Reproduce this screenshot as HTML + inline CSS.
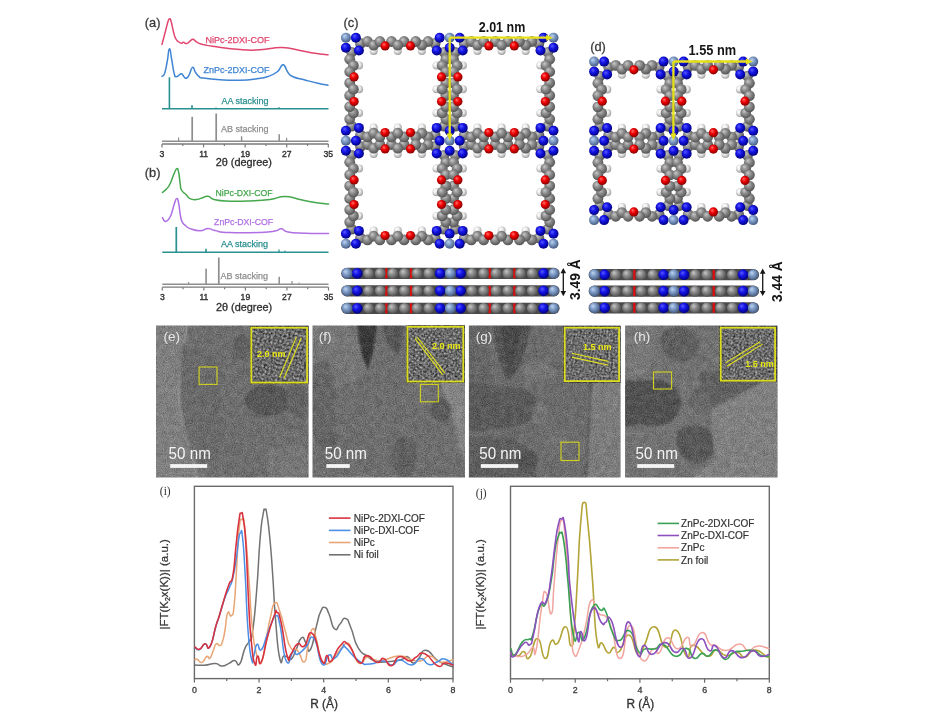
<!DOCTYPE html><html><head><meta charset="utf-8"><style>html,body{margin:0;padding:0;background:#fff;width:944px;height:727px;overflow:hidden}svg{display:block;filter:blur(0.35px)}</style></head><body>
<svg width="944" height="727" viewBox="0 0 944 727">
<defs>
<radialGradient id="gC" cx="45%" cy="42%" r="60%" fx="35%" fy="32%"><stop offset="0" stop-color="#c8c8c8"/><stop offset="0.45" stop-color="#8c8c8c"/><stop offset="1" stop-color="#505050"/></radialGradient>
<radialGradient id="sC" cx="45%" cy="42%" r="60%" fx="35%" fy="32%"><stop offset="0" stop-color="#c8c8c8"/><stop offset="0.45" stop-color="#8c8c8c"/><stop offset="1" stop-color="#505050"/></radialGradient>
<radialGradient id="gN" cx="45%" cy="42%" r="60%" fx="35%" fy="32%"><stop offset="0" stop-color="#5a5aff"/><stop offset="0.45" stop-color="#1414e6"/><stop offset="1" stop-color="#00007a"/></radialGradient>
<radialGradient id="sN" cx="45%" cy="42%" r="60%" fx="35%" fy="32%"><stop offset="0" stop-color="#5a5aff"/><stop offset="0.45" stop-color="#1414e6"/><stop offset="1" stop-color="#00007a"/></radialGradient>
<radialGradient id="gO" cx="45%" cy="42%" r="60%" fx="35%" fy="32%"><stop offset="0" stop-color="#ff7070"/><stop offset="0.45" stop-color="#f00000"/><stop offset="1" stop-color="#800000"/></radialGradient>
<radialGradient id="sO" cx="45%" cy="42%" r="60%" fx="35%" fy="32%"><stop offset="0" stop-color="#ff7070"/><stop offset="0.45" stop-color="#f00000"/><stop offset="1" stop-color="#800000"/></radialGradient>
<radialGradient id="gH" cx="45%" cy="42%" r="60%" fx="35%" fy="32%"><stop offset="0" stop-color="#ffffff"/><stop offset="0.45" stop-color="#eaeaea"/><stop offset="1" stop-color="#9a9a9a"/></radialGradient>
<radialGradient id="sH" cx="45%" cy="42%" r="60%" fx="35%" fy="32%"><stop offset="0" stop-color="#ffffff"/><stop offset="0.45" stop-color="#eaeaea"/><stop offset="1" stop-color="#9a9a9a"/></radialGradient>
<radialGradient id="gM" cx="45%" cy="42%" r="60%" fx="35%" fy="32%"><stop offset="0" stop-color="#c0d4ee"/><stop offset="0.45" stop-color="#7e9cc8"/><stop offset="1" stop-color="#44587a"/></radialGradient>
<radialGradient id="sM" cx="45%" cy="42%" r="60%" fx="35%" fy="32%"><stop offset="0" stop-color="#c0d4ee"/><stop offset="0.45" stop-color="#7e9cc8"/><stop offset="1" stop-color="#44587a"/></radialGradient>
<filter id="blur6" x="-20%" y="-20%" width="140%" height="140%"><feGaussianBlur stdDeviation="6"/></filter>
<filter id="noise" x="0" y="0" width="100%" height="100%"><feTurbulence type="fractalNoise" baseFrequency="0.75" numOctaves="2" seed="3"/><feColorMatrix type="matrix" values="0.33 0.33 0.33 0 0  0.33 0.33 0.33 0 0  0.33 0.33 0.33 0 0  0 0 0 0 1"/></filter>
<filter id="noise2" x="0" y="0" width="100%" height="100%"><feTurbulence type="fractalNoise" baseFrequency="0.5" numOctaves="2" seed="7"/><feColorMatrix type="matrix" values="0.33 0.33 0.33 0 0  0.33 0.33 0.33 0 0  0.33 0.33 0.33 0 0  0 0 0 0 1"/></filter>
<pattern id="lat0" width="4.2" height="4.2" patternUnits="userSpaceOnUse" patternTransform="rotate(20)"><rect width="4.2" height="4.2" fill="#5e5e5e"/><circle cx="2.1" cy="2.1" r="1.34" fill="#868686"/></pattern>
<pattern id="lat1" width="3.6" height="3.6" patternUnits="userSpaceOnUse" patternTransform="rotate(35)"><rect width="3.6" height="3.6" fill="#5e5e5e"/><circle cx="1.8" cy="1.8" r="1.15" fill="#868686"/></pattern>
<pattern id="lat2" width="3.0" height="3.0" patternUnits="userSpaceOnUse" patternTransform="rotate(10)"><rect width="3.0" height="3.0" fill="#5e5e5e"/><circle cx="1.5" cy="1.5" r="0.96" fill="#868686"/></pattern>
<pattern id="lat3" width="3.0" height="3.0" patternUnits="userSpaceOnUse" patternTransform="rotate(30)"><rect width="3.0" height="3.0" fill="#5e5e5e"/><circle cx="1.5" cy="1.5" r="0.96" fill="#868686"/></pattern>
</defs>
<rect width="944" height="727" fill="#fff"/>
<text x="144.8" y="27.3" font-family="Liberation Sans" font-size="12.8" fill="#3a3a3a" text-anchor="start" font-weight="normal" stroke="#3a3a3a" stroke-width="0.3" >(a)</text>
<path d="M162.00,44.30 C162.93,40.75 163.90,37.08 165.50,31.00 C167.10,24.92 166.93,24.73 168.00,21.50 C169.07,18.27 168.70,19.03 169.50,18.90 C170.30,18.77 169.99,17.77 171.00,21.00 C172.01,24.23 172.13,26.47 173.30,31.00 C174.47,35.53 174.01,35.12 175.40,38.00 C176.79,40.88 176.87,40.41 178.50,41.80 C180.13,43.19 180.17,43.09 181.50,43.20 C182.83,43.31 182.17,42.09 183.50,42.20 C184.83,42.31 184.77,43.87 186.50,43.60 C188.23,43.33 188.27,42.35 190.00,41.20 C191.73,40.05 191.27,39.14 193.00,39.30 C194.73,39.46 194.15,40.49 196.50,41.80 C198.85,43.11 196.87,42.92 201.80,44.20 C206.73,45.48 204.81,45.16 215.00,46.60 C225.19,48.04 228.00,48.75 240.00,49.60 C252.00,50.45 248.80,50.33 260.00,49.80 C271.20,49.27 271.33,47.41 282.00,47.60 C292.67,47.79 291.20,48.98 300.00,50.50 C308.80,52.02 307.53,52.15 315.00,53.30 C322.47,54.45 324.53,54.40 328.00,54.80" fill="none" stroke="#e0466e" stroke-width="1.5" stroke-linejoin="round" stroke-linecap="round" />
<path d="M162.00,76.20 C162.69,75.48 163.19,77.55 164.60,73.50 C166.01,69.45 166.02,67.56 167.30,61.00 C168.58,54.44 168.25,49.43 169.40,48.90 C170.55,48.37 170.32,52.41 171.60,59.00 C172.88,65.59 172.97,68.91 174.20,73.60 C175.43,78.29 174.92,76.17 176.20,76.60 C177.48,77.03 177.59,75.95 179.00,75.20 C180.41,74.45 180.17,73.37 181.50,73.80 C182.83,74.23 182.69,75.63 184.00,76.80 C185.31,77.97 184.99,78.79 186.40,78.20 C187.81,77.61 187.67,77.48 189.30,74.60 C190.93,71.72 190.82,67.96 192.50,67.40 C194.18,66.84 193.87,70.10 195.60,72.50 C197.33,74.90 197.03,74.93 199.00,76.40 C200.97,77.87 197.40,77.09 203.00,78.00 C208.60,78.91 210.13,79.19 220.00,79.80 C229.87,80.41 230.13,80.57 240.00,80.30 C249.87,80.03 249.53,79.81 257.00,78.80 C264.47,77.79 262.67,78.31 268.00,76.50 C273.33,74.69 273.53,74.67 277.00,72.00 C280.47,69.33 279.40,68.42 281.00,66.50 C282.60,64.58 281.93,64.80 283.00,64.80 C284.07,64.80 283.67,64.45 285.00,66.50 C286.33,68.55 285.87,69.75 288.00,72.50 C290.13,75.25 288.47,74.80 293.00,76.80 C297.53,78.80 298.33,78.29 305.00,80.00 C311.67,81.71 311.87,81.81 318.00,83.20 C324.13,84.59 325.33,84.67 328.00,85.20" fill="none" stroke="#3f85d4" stroke-width="1.5" stroke-linejoin="round" stroke-linecap="round" />
<text x="269.5" y="43.2" font-family="Liberation Sans" font-size="9.0" fill="#e0466e" text-anchor="end" font-weight="normal" stroke="#e0466e" stroke-width="0.25" >NiPc-2DXI-COF</text>
<text x="269.5" y="73.2" font-family="Liberation Sans" font-size="9.0" fill="#3f85d4" text-anchor="end" font-weight="normal" stroke="#3f85d4" stroke-width="0.25" >ZnPc-2DXI-COF</text>
<line x1="162" y1="108.7" x2="328.5" y2="108.7" stroke="#2a8f8f" stroke-width="1.6"/>
<rect x="168.60" y="77.30" width="1.60" height="31.40" fill="#2a8f8f"/>
<rect x="191.20" y="105.20" width="1.60" height="3.50" fill="#2a8f8f"/>
<rect x="215.40" y="107.50" width="1.20" height="1.20" fill="#2a8f8f"/>
<rect x="278.30" y="107.20" width="1.40" height="1.50" fill="#2a8f8f"/>
<text x="268.6" y="104.3" font-family="Liberation Sans" font-size="9.0" fill="#2a8f8f" text-anchor="end" font-weight="normal" stroke="#2a8f8f" stroke-width="0.25" >AA stacking</text>
<line x1="162" y1="141.3" x2="328.5" y2="141.3" stroke="#8e8e8e" stroke-width="1.6"/>
<rect x="178.00" y="137.50" width="1.20" height="3.80" fill="#8e8e8e"/>
<rect x="191.35" y="116.80" width="1.70" height="24.50" fill="#8e8e8e"/>
<rect x="215.35" y="113.50" width="1.70" height="27.80" fill="#8e8e8e"/>
<rect x="240.90" y="136.30" width="1.40" height="5.00" fill="#8e8e8e"/>
<rect x="278.45" y="134.20" width="1.50" height="7.10" fill="#8e8e8e"/>
<rect x="286.00" y="137.80" width="1.20" height="3.50" fill="#8e8e8e"/>
<text x="268.6" y="131.8" font-family="Liberation Sans" font-size="9.0" fill="#8e8e8e" text-anchor="end" font-weight="normal" stroke="#8e8e8e" stroke-width="0.25" >AB stacking</text>
<line x1="162" y1="144.0" x2="328.3" y2="144.0" stroke="#7a7a7a" stroke-width="1.3"/>
<line x1="162.00" y1="144.0" x2="162.00" y2="147.4" stroke="#7a7a7a" stroke-width="1.2"/>
<line x1="182.79" y1="144.0" x2="182.79" y2="146.0" stroke="#7a7a7a" stroke-width="1.2"/>
<line x1="203.57" y1="144.0" x2="203.57" y2="147.4" stroke="#7a7a7a" stroke-width="1.2"/>
<line x1="224.36" y1="144.0" x2="224.36" y2="146.0" stroke="#7a7a7a" stroke-width="1.2"/>
<line x1="245.15" y1="144.0" x2="245.15" y2="147.4" stroke="#7a7a7a" stroke-width="1.2"/>
<line x1="265.94" y1="144.0" x2="265.94" y2="146.0" stroke="#7a7a7a" stroke-width="1.2"/>
<line x1="286.73" y1="144.0" x2="286.73" y2="147.4" stroke="#7a7a7a" stroke-width="1.2"/>
<line x1="307.51" y1="144.0" x2="307.51" y2="146.0" stroke="#7a7a7a" stroke-width="1.2"/>
<line x1="328.30" y1="144.0" x2="328.30" y2="147.4" stroke="#7a7a7a" stroke-width="1.2"/>
<text x="162.0" y="156.8" font-family="Liberation Sans" font-size="8.6" fill="#2e2e2e" text-anchor="middle" font-weight="normal" stroke="#2e2e2e" stroke-width="0.35" >3</text>
<text x="203.6" y="156.8" font-family="Liberation Sans" font-size="8.6" fill="#2e2e2e" text-anchor="middle" font-weight="normal" stroke="#2e2e2e" stroke-width="0.35" >11</text>
<text x="245.2" y="156.8" font-family="Liberation Sans" font-size="8.6" fill="#2e2e2e" text-anchor="middle" font-weight="normal" stroke="#2e2e2e" stroke-width="0.35" >19</text>
<text x="286.7" y="156.8" font-family="Liberation Sans" font-size="8.6" fill="#2e2e2e" text-anchor="middle" font-weight="normal" stroke="#2e2e2e" stroke-width="0.35" >27</text>
<text x="328.3" y="156.8" font-family="Liberation Sans" font-size="8.6" fill="#2e2e2e" text-anchor="middle" font-weight="normal" stroke="#2e2e2e" stroke-width="0.35" >35</text>
<text x="243.8" y="165.5" font-family="Liberation Sans" font-size="10.9" fill="#2e2e2e" text-anchor="middle" font-weight="normal" stroke="#2e2e2e" stroke-width="0.3" >2&#952; (degree)</text>
<text x="144.8" y="176.8" font-family="Liberation Sans" font-size="12.8" fill="#3a3a3a" text-anchor="start" font-weight="normal" stroke="#3a3a3a" stroke-width="0.3" >(b)</text>
<path d="M162.50,192.40 C163.57,191.49 164.50,191.24 166.50,189.00 C168.50,186.76 168.13,187.73 170.00,184.00 C171.87,180.27 171.74,179.03 173.50,175.00 C175.26,170.97 175.24,169.70 176.60,168.90 C177.96,168.10 177.64,167.97 178.60,172.00 C179.56,176.03 179.43,179.20 180.20,184.00 C180.97,188.80 179.95,187.20 181.50,190.00 C183.05,192.80 183.73,192.21 186.00,194.50 C188.27,196.79 187.33,197.24 190.00,198.60 C192.67,199.96 192.80,199.76 196.00,199.60 C199.20,199.44 198.80,198.88 202.00,198.00 C205.20,197.12 204.53,195.82 208.00,196.30 C211.47,196.78 209.13,198.49 215.00,199.80 C220.87,201.11 220.67,200.88 230.00,201.20 C239.33,201.52 239.33,201.45 250.00,201.00 C260.67,200.55 260.72,200.70 270.00,199.50 C279.28,198.30 276.80,196.50 284.80,196.50 C292.80,196.50 291.95,197.90 300.00,199.50 C308.05,201.10 307.40,201.30 315.00,202.50 C322.60,203.70 324.90,203.60 328.50,204.00" fill="none" stroke="#45a84d" stroke-width="1.5" stroke-linejoin="round" stroke-linecap="round" />
<path d="M162.50,217.70 C163.17,218.66 163.53,220.69 165.00,221.30 C166.47,221.91 166.40,221.68 168.00,220.00 C169.60,218.32 169.40,219.00 171.00,215.00 C172.60,211.00 172.51,209.37 174.00,205.00 C175.49,200.63 175.37,199.13 176.60,198.60 C177.83,198.07 177.56,198.36 178.60,203.00 C179.64,207.64 179.46,210.85 180.50,216.00 C181.54,221.15 181.03,219.63 182.50,222.30 C183.97,224.97 184.00,224.32 186.00,226.00 C188.00,227.68 186.27,227.32 190.00,228.60 C193.73,229.88 195.20,230.85 200.00,230.80 C204.80,230.75 204.00,228.45 208.00,228.40 C212.00,228.35 209.13,229.48 215.00,230.60 C220.87,231.72 218.00,232.12 230.00,232.60 C242.00,233.08 248.00,232.83 260.00,232.40 C272.00,231.97 269.27,231.99 275.00,231.00 C280.73,230.01 278.03,228.43 281.50,228.70 C284.97,228.97 281.73,230.80 288.00,232.00 C294.27,233.20 294.20,232.83 305.00,233.20 C315.80,233.57 322.23,233.35 328.50,233.40" fill="none" stroke="#b06fe2" stroke-width="1.5" stroke-linejoin="round" stroke-linecap="round" />
<text x="272.5" y="195.6" font-family="Liberation Sans" font-size="8.7" fill="#45a84d" text-anchor="end" font-weight="normal" stroke="#45a84d" stroke-width="0.25" >NiPc-DXI-COF</text>
<text x="273" y="225.4" font-family="Liberation Sans" font-size="8.7" fill="#b06fe2" text-anchor="end" font-weight="normal" stroke="#b06fe2" stroke-width="0.25" >ZnPc-DXI-COF</text>
<line x1="162.3" y1="252.2" x2="328.5" y2="252.2" stroke="#2a8f8f" stroke-width="1.6"/>
<rect x="175.45" y="227.00" width="1.70" height="25.20" fill="#2a8f8f"/>
<rect x="205.20" y="248.80" width="1.60" height="3.40" fill="#2a8f8f"/>
<rect x="278.40" y="249.50" width="1.20" height="2.70" fill="#2a8f8f"/>
<rect x="284.50" y="250.50" width="1.00" height="1.70" fill="#2a8f8f"/>
<text x="268" y="247" font-family="Liberation Sans" font-size="9.0" fill="#2a8f8f" text-anchor="end" font-weight="normal" stroke="#2a8f8f" stroke-width="0.25" >AA stacking</text>
<line x1="162.3" y1="284.3" x2="328.5" y2="284.3" stroke="#8e8e8e" stroke-width="1.6"/>
<rect x="188.15" y="282.00" width="1.10" height="2.30" fill="#8e8e8e"/>
<rect x="205.30" y="268.60" width="1.60" height="15.70" fill="#8e8e8e"/>
<rect x="217.95" y="257.50" width="1.70" height="26.80" fill="#8e8e8e"/>
<rect x="278.45" y="276.80" width="1.50" height="7.50" fill="#8e8e8e"/>
<rect x="291.40" y="281.00" width="1.20" height="3.30" fill="#8e8e8e"/>
<rect x="298.50" y="282.50" width="1.00" height="1.80" fill="#8e8e8e"/>
<text x="268" y="278.6" font-family="Liberation Sans" font-size="9.0" fill="#8e8e8e" text-anchor="end" font-weight="normal" stroke="#8e8e8e" stroke-width="0.25" >AB stacking</text>
<line x1="162.3" y1="287.2" x2="328.5" y2="287.2" stroke="#7a7a7a" stroke-width="1.3"/>
<line x1="162.30" y1="287.2" x2="162.30" y2="290.59999999999997" stroke="#7a7a7a" stroke-width="1.2"/>
<line x1="183.08" y1="287.2" x2="183.08" y2="289.2" stroke="#7a7a7a" stroke-width="1.2"/>
<line x1="203.85" y1="287.2" x2="203.85" y2="290.59999999999997" stroke="#7a7a7a" stroke-width="1.2"/>
<line x1="224.62" y1="287.2" x2="224.62" y2="289.2" stroke="#7a7a7a" stroke-width="1.2"/>
<line x1="245.40" y1="287.2" x2="245.40" y2="290.59999999999997" stroke="#7a7a7a" stroke-width="1.2"/>
<line x1="266.18" y1="287.2" x2="266.18" y2="289.2" stroke="#7a7a7a" stroke-width="1.2"/>
<line x1="286.95" y1="287.2" x2="286.95" y2="290.59999999999997" stroke="#7a7a7a" stroke-width="1.2"/>
<line x1="307.73" y1="287.2" x2="307.73" y2="289.2" stroke="#7a7a7a" stroke-width="1.2"/>
<line x1="328.50" y1="287.2" x2="328.50" y2="290.59999999999997" stroke="#7a7a7a" stroke-width="1.2"/>
<text x="162.3" y="300.3" font-family="Liberation Sans" font-size="8.6" fill="#2e2e2e" text-anchor="middle" font-weight="normal" stroke="#2e2e2e" stroke-width="0.35" >3</text>
<text x="203.9" y="300.3" font-family="Liberation Sans" font-size="8.6" fill="#2e2e2e" text-anchor="middle" font-weight="normal" stroke="#2e2e2e" stroke-width="0.35" >11</text>
<text x="245.4" y="300.3" font-family="Liberation Sans" font-size="8.6" fill="#2e2e2e" text-anchor="middle" font-weight="normal" stroke="#2e2e2e" stroke-width="0.35" >19</text>
<text x="286.9" y="300.3" font-family="Liberation Sans" font-size="8.6" fill="#2e2e2e" text-anchor="middle" font-weight="normal" stroke="#2e2e2e" stroke-width="0.35" >27</text>
<text x="328.5" y="300.3" font-family="Liberation Sans" font-size="8.6" fill="#2e2e2e" text-anchor="middle" font-weight="normal" stroke="#2e2e2e" stroke-width="0.35" >35</text>
<text x="244.1" y="311.3" font-family="Liberation Sans" font-size="10.9" fill="#2e2e2e" text-anchor="middle" font-weight="normal" stroke="#2e2e2e" stroke-width="0.3" >2&#952; (degree)</text>
<text x="343.6" y="27.4" font-family="Liberation Sans" font-size="12.8" fill="#3a3a3a" text-anchor="start" font-weight="normal" stroke="#3a3a3a" stroke-width="0.3" >(c)</text>
<circle cx="373.70" cy="50.90" r="4.0" fill="url(#gH)"/>
<circle cx="359.10" cy="65.50" r="4.0" fill="url(#gH)"/>
<circle cx="397.80" cy="50.90" r="4.0" fill="url(#gH)"/>
<circle cx="359.10" cy="89.20" r="4.0" fill="url(#gH)"/>
<circle cx="373.70" cy="153.90" r="4.0" fill="url(#gH)"/>
<circle cx="373.70" cy="127.50" r="4.0" fill="url(#gH)"/>
<circle cx="359.10" cy="168.50" r="4.0" fill="url(#gH)"/>
<circle cx="359.10" cy="112.90" r="4.0" fill="url(#gH)"/>
<circle cx="397.80" cy="153.90" r="4.0" fill="url(#gH)"/>
<circle cx="397.80" cy="127.50" r="4.0" fill="url(#gH)"/>
<circle cx="359.10" cy="192.20" r="4.0" fill="url(#gH)"/>
<circle cx="373.70" cy="230.50" r="4.0" fill="url(#gH)"/>
<circle cx="359.10" cy="215.90" r="4.0" fill="url(#gH)"/>
<circle cx="397.80" cy="230.50" r="4.0" fill="url(#gH)"/>
<circle cx="477.50" cy="50.90" r="4.0" fill="url(#gH)"/>
<circle cx="436.50" cy="65.50" r="4.0" fill="url(#gH)"/>
<circle cx="462.90" cy="65.50" r="4.0" fill="url(#gH)"/>
<circle cx="421.90" cy="50.90" r="4.0" fill="url(#gH)"/>
<circle cx="501.60" cy="50.90" r="4.0" fill="url(#gH)"/>
<circle cx="462.90" cy="89.20" r="4.0" fill="url(#gH)"/>
<circle cx="436.50" cy="89.20" r="4.0" fill="url(#gH)"/>
<circle cx="477.50" cy="153.90" r="4.0" fill="url(#gH)"/>
<circle cx="477.50" cy="127.50" r="4.0" fill="url(#gH)"/>
<circle cx="436.50" cy="168.50" r="4.0" fill="url(#gH)"/>
<circle cx="462.90" cy="168.50" r="4.0" fill="url(#gH)"/>
<circle cx="421.90" cy="127.50" r="4.0" fill="url(#gH)"/>
<circle cx="421.90" cy="153.90" r="4.0" fill="url(#gH)"/>
<circle cx="462.90" cy="112.90" r="4.0" fill="url(#gH)"/>
<circle cx="436.50" cy="112.90" r="4.0" fill="url(#gH)"/>
<circle cx="501.60" cy="153.90" r="4.0" fill="url(#gH)"/>
<circle cx="501.60" cy="127.50" r="4.0" fill="url(#gH)"/>
<circle cx="462.90" cy="192.20" r="4.0" fill="url(#gH)"/>
<circle cx="436.50" cy="192.20" r="4.0" fill="url(#gH)"/>
<circle cx="477.50" cy="230.50" r="4.0" fill="url(#gH)"/>
<circle cx="421.90" cy="230.50" r="4.0" fill="url(#gH)"/>
<circle cx="462.90" cy="215.90" r="4.0" fill="url(#gH)"/>
<circle cx="436.50" cy="215.90" r="4.0" fill="url(#gH)"/>
<circle cx="501.60" cy="230.50" r="4.0" fill="url(#gH)"/>
<circle cx="540.30" cy="65.50" r="4.0" fill="url(#gH)"/>
<circle cx="525.70" cy="50.90" r="4.0" fill="url(#gH)"/>
<circle cx="540.30" cy="89.20" r="4.0" fill="url(#gH)"/>
<circle cx="540.30" cy="168.50" r="4.0" fill="url(#gH)"/>
<circle cx="525.70" cy="127.50" r="4.0" fill="url(#gH)"/>
<circle cx="525.70" cy="153.90" r="4.0" fill="url(#gH)"/>
<circle cx="540.30" cy="112.90" r="4.0" fill="url(#gH)"/>
<circle cx="540.30" cy="192.20" r="4.0" fill="url(#gH)"/>
<circle cx="525.70" cy="230.50" r="4.0" fill="url(#gH)"/>
<circle cx="540.30" cy="215.90" r="4.0" fill="url(#gH)"/>
<circle cx="360.50" cy="43.40" r="5.4" fill="url(#gC)"/>
<circle cx="367.50" cy="41.50" r="5.4" fill="url(#gC)"/>
<circle cx="373.70" cy="45.20" r="5.4" fill="url(#gC)"/>
<circle cx="379.90" cy="41.50" r="5.4" fill="url(#gC)"/>
<circle cx="351.60" cy="52.30" r="5.4" fill="url(#gC)"/>
<circle cx="349.70" cy="59.30" r="5.4" fill="url(#gC)"/>
<circle cx="353.40" cy="65.50" r="5.4" fill="url(#gC)"/>
<circle cx="349.70" cy="71.70" r="5.4" fill="url(#gC)"/>
<circle cx="391.50" cy="41.50" r="5.4" fill="url(#gC)"/>
<circle cx="404.10" cy="41.50" r="5.4" fill="url(#gC)"/>
<circle cx="397.80" cy="45.20" r="5.4" fill="url(#gC)"/>
<circle cx="349.70" cy="82.90" r="5.4" fill="url(#gC)"/>
<circle cx="349.70" cy="95.50" r="5.4" fill="url(#gC)"/>
<circle cx="353.40" cy="89.20" r="5.4" fill="url(#gC)"/>
<circle cx="360.50" cy="146.40" r="5.4" fill="url(#gC)"/>
<circle cx="360.50" cy="135.00" r="5.4" fill="url(#gC)"/>
<circle cx="367.50" cy="144.50" r="5.4" fill="url(#gC)"/>
<circle cx="367.50" cy="136.90" r="5.4" fill="url(#gC)"/>
<circle cx="373.70" cy="148.20" r="5.4" fill="url(#gC)"/>
<circle cx="373.70" cy="133.20" r="5.4" fill="url(#gC)"/>
<circle cx="379.90" cy="144.50" r="5.4" fill="url(#gC)"/>
<circle cx="379.90" cy="136.90" r="5.4" fill="url(#gC)"/>
<circle cx="351.60" cy="155.30" r="5.4" fill="url(#gC)"/>
<circle cx="349.70" cy="162.30" r="5.4" fill="url(#gC)"/>
<circle cx="353.40" cy="168.50" r="5.4" fill="url(#gC)"/>
<circle cx="349.70" cy="174.70" r="5.4" fill="url(#gC)"/>
<circle cx="351.60" cy="126.10" r="5.4" fill="url(#gC)"/>
<circle cx="349.70" cy="119.10" r="5.4" fill="url(#gC)"/>
<circle cx="353.40" cy="112.90" r="5.4" fill="url(#gC)"/>
<circle cx="349.70" cy="106.70" r="5.4" fill="url(#gC)"/>
<circle cx="391.50" cy="144.50" r="5.4" fill="url(#gC)"/>
<circle cx="391.50" cy="136.90" r="5.4" fill="url(#gC)"/>
<circle cx="404.10" cy="144.50" r="5.4" fill="url(#gC)"/>
<circle cx="404.10" cy="136.90" r="5.4" fill="url(#gC)"/>
<circle cx="397.80" cy="148.20" r="5.4" fill="url(#gC)"/>
<circle cx="397.80" cy="133.20" r="5.4" fill="url(#gC)"/>
<circle cx="349.70" cy="185.90" r="5.4" fill="url(#gC)"/>
<circle cx="349.70" cy="198.50" r="5.4" fill="url(#gC)"/>
<circle cx="353.40" cy="192.20" r="5.4" fill="url(#gC)"/>
<circle cx="360.50" cy="238.00" r="5.4" fill="url(#gC)"/>
<circle cx="367.50" cy="239.90" r="5.4" fill="url(#gC)"/>
<circle cx="373.70" cy="236.20" r="5.4" fill="url(#gC)"/>
<circle cx="379.90" cy="239.90" r="5.4" fill="url(#gC)"/>
<circle cx="351.60" cy="229.10" r="5.4" fill="url(#gC)"/>
<circle cx="349.70" cy="222.10" r="5.4" fill="url(#gC)"/>
<circle cx="353.40" cy="215.90" r="5.4" fill="url(#gC)"/>
<circle cx="349.70" cy="209.70" r="5.4" fill="url(#gC)"/>
<circle cx="391.50" cy="239.90" r="5.4" fill="url(#gC)"/>
<circle cx="404.10" cy="239.90" r="5.4" fill="url(#gC)"/>
<circle cx="397.80" cy="236.20" r="5.4" fill="url(#gC)"/>
<circle cx="464.30" cy="43.40" r="5.4" fill="url(#gC)"/>
<circle cx="471.30" cy="41.50" r="5.4" fill="url(#gC)"/>
<circle cx="477.50" cy="45.20" r="5.4" fill="url(#gC)"/>
<circle cx="483.70" cy="41.50" r="5.4" fill="url(#gC)"/>
<circle cx="444.00" cy="52.30" r="5.4" fill="url(#gC)"/>
<circle cx="455.40" cy="52.30" r="5.4" fill="url(#gC)"/>
<circle cx="445.90" cy="59.30" r="5.4" fill="url(#gC)"/>
<circle cx="453.50" cy="59.30" r="5.4" fill="url(#gC)"/>
<circle cx="442.20" cy="65.50" r="5.4" fill="url(#gC)"/>
<circle cx="457.20" cy="65.50" r="5.4" fill="url(#gC)"/>
<circle cx="445.90" cy="71.70" r="5.4" fill="url(#gC)"/>
<circle cx="453.50" cy="71.70" r="5.4" fill="url(#gC)"/>
<circle cx="435.10" cy="43.40" r="5.4" fill="url(#gC)"/>
<circle cx="428.10" cy="41.50" r="5.4" fill="url(#gC)"/>
<circle cx="421.90" cy="45.20" r="5.4" fill="url(#gC)"/>
<circle cx="415.70" cy="41.50" r="5.4" fill="url(#gC)"/>
<circle cx="495.30" cy="41.50" r="5.4" fill="url(#gC)"/>
<circle cx="507.90" cy="41.50" r="5.4" fill="url(#gC)"/>
<circle cx="501.60" cy="45.20" r="5.4" fill="url(#gC)"/>
<circle cx="453.50" cy="82.90" r="5.4" fill="url(#gC)"/>
<circle cx="445.90" cy="82.90" r="5.4" fill="url(#gC)"/>
<circle cx="453.50" cy="95.50" r="5.4" fill="url(#gC)"/>
<circle cx="445.90" cy="95.50" r="5.4" fill="url(#gC)"/>
<circle cx="457.20" cy="89.20" r="5.4" fill="url(#gC)"/>
<circle cx="442.20" cy="89.20" r="5.4" fill="url(#gC)"/>
<circle cx="464.30" cy="146.40" r="5.4" fill="url(#gC)"/>
<circle cx="464.30" cy="135.00" r="5.4" fill="url(#gC)"/>
<circle cx="471.30" cy="144.50" r="5.4" fill="url(#gC)"/>
<circle cx="471.30" cy="136.90" r="5.4" fill="url(#gC)"/>
<circle cx="477.50" cy="148.20" r="5.4" fill="url(#gC)"/>
<circle cx="477.50" cy="133.20" r="5.4" fill="url(#gC)"/>
<circle cx="483.70" cy="144.50" r="5.4" fill="url(#gC)"/>
<circle cx="483.70" cy="136.90" r="5.4" fill="url(#gC)"/>
<circle cx="444.00" cy="155.30" r="5.4" fill="url(#gC)"/>
<circle cx="455.40" cy="155.30" r="5.4" fill="url(#gC)"/>
<circle cx="445.90" cy="162.30" r="5.4" fill="url(#gC)"/>
<circle cx="453.50" cy="162.30" r="5.4" fill="url(#gC)"/>
<circle cx="442.20" cy="168.50" r="5.4" fill="url(#gC)"/>
<circle cx="457.20" cy="168.50" r="5.4" fill="url(#gC)"/>
<circle cx="445.90" cy="174.70" r="5.4" fill="url(#gC)"/>
<circle cx="453.50" cy="174.70" r="5.4" fill="url(#gC)"/>
<circle cx="435.10" cy="135.00" r="5.4" fill="url(#gC)"/>
<circle cx="435.10" cy="146.40" r="5.4" fill="url(#gC)"/>
<circle cx="428.10" cy="136.90" r="5.4" fill="url(#gC)"/>
<circle cx="428.10" cy="144.50" r="5.4" fill="url(#gC)"/>
<circle cx="421.90" cy="133.20" r="5.4" fill="url(#gC)"/>
<circle cx="421.90" cy="148.20" r="5.4" fill="url(#gC)"/>
<circle cx="415.70" cy="136.90" r="5.4" fill="url(#gC)"/>
<circle cx="415.70" cy="144.50" r="5.4" fill="url(#gC)"/>
<circle cx="455.40" cy="126.10" r="5.4" fill="url(#gC)"/>
<circle cx="444.00" cy="126.10" r="5.4" fill="url(#gC)"/>
<circle cx="453.50" cy="119.10" r="5.4" fill="url(#gC)"/>
<circle cx="445.90" cy="119.10" r="5.4" fill="url(#gC)"/>
<circle cx="457.20" cy="112.90" r="5.4" fill="url(#gC)"/>
<circle cx="442.20" cy="112.90" r="5.4" fill="url(#gC)"/>
<circle cx="453.50" cy="106.70" r="5.4" fill="url(#gC)"/>
<circle cx="445.90" cy="106.70" r="5.4" fill="url(#gC)"/>
<circle cx="495.30" cy="144.50" r="5.4" fill="url(#gC)"/>
<circle cx="495.30" cy="136.90" r="5.4" fill="url(#gC)"/>
<circle cx="507.90" cy="144.50" r="5.4" fill="url(#gC)"/>
<circle cx="507.90" cy="136.90" r="5.4" fill="url(#gC)"/>
<circle cx="501.60" cy="148.20" r="5.4" fill="url(#gC)"/>
<circle cx="501.60" cy="133.20" r="5.4" fill="url(#gC)"/>
<circle cx="453.50" cy="185.90" r="5.4" fill="url(#gC)"/>
<circle cx="445.90" cy="185.90" r="5.4" fill="url(#gC)"/>
<circle cx="453.50" cy="198.50" r="5.4" fill="url(#gC)"/>
<circle cx="445.90" cy="198.50" r="5.4" fill="url(#gC)"/>
<circle cx="457.20" cy="192.20" r="5.4" fill="url(#gC)"/>
<circle cx="442.20" cy="192.20" r="5.4" fill="url(#gC)"/>
<circle cx="464.30" cy="238.00" r="5.4" fill="url(#gC)"/>
<circle cx="471.30" cy="239.90" r="5.4" fill="url(#gC)"/>
<circle cx="477.50" cy="236.20" r="5.4" fill="url(#gC)"/>
<circle cx="483.70" cy="239.90" r="5.4" fill="url(#gC)"/>
<circle cx="435.10" cy="238.00" r="5.4" fill="url(#gC)"/>
<circle cx="428.10" cy="239.90" r="5.4" fill="url(#gC)"/>
<circle cx="421.90" cy="236.20" r="5.4" fill="url(#gC)"/>
<circle cx="415.70" cy="239.90" r="5.4" fill="url(#gC)"/>
<circle cx="455.40" cy="229.10" r="5.4" fill="url(#gC)"/>
<circle cx="444.00" cy="229.10" r="5.4" fill="url(#gC)"/>
<circle cx="453.50" cy="222.10" r="5.4" fill="url(#gC)"/>
<circle cx="445.90" cy="222.10" r="5.4" fill="url(#gC)"/>
<circle cx="457.20" cy="215.90" r="5.4" fill="url(#gC)"/>
<circle cx="442.20" cy="215.90" r="5.4" fill="url(#gC)"/>
<circle cx="453.50" cy="209.70" r="5.4" fill="url(#gC)"/>
<circle cx="445.90" cy="209.70" r="5.4" fill="url(#gC)"/>
<circle cx="495.30" cy="239.90" r="5.4" fill="url(#gC)"/>
<circle cx="507.90" cy="239.90" r="5.4" fill="url(#gC)"/>
<circle cx="501.60" cy="236.20" r="5.4" fill="url(#gC)"/>
<circle cx="547.80" cy="52.30" r="5.4" fill="url(#gC)"/>
<circle cx="549.70" cy="59.30" r="5.4" fill="url(#gC)"/>
<circle cx="546.00" cy="65.50" r="5.4" fill="url(#gC)"/>
<circle cx="549.70" cy="71.70" r="5.4" fill="url(#gC)"/>
<circle cx="538.90" cy="43.40" r="5.4" fill="url(#gC)"/>
<circle cx="531.90" cy="41.50" r="5.4" fill="url(#gC)"/>
<circle cx="525.70" cy="45.20" r="5.4" fill="url(#gC)"/>
<circle cx="519.50" cy="41.50" r="5.4" fill="url(#gC)"/>
<circle cx="549.70" cy="82.90" r="5.4" fill="url(#gC)"/>
<circle cx="549.70" cy="95.50" r="5.4" fill="url(#gC)"/>
<circle cx="546.00" cy="89.20" r="5.4" fill="url(#gC)"/>
<circle cx="547.80" cy="155.30" r="5.4" fill="url(#gC)"/>
<circle cx="549.70" cy="162.30" r="5.4" fill="url(#gC)"/>
<circle cx="546.00" cy="168.50" r="5.4" fill="url(#gC)"/>
<circle cx="549.70" cy="174.70" r="5.4" fill="url(#gC)"/>
<circle cx="538.90" cy="135.00" r="5.4" fill="url(#gC)"/>
<circle cx="538.90" cy="146.40" r="5.4" fill="url(#gC)"/>
<circle cx="531.90" cy="136.90" r="5.4" fill="url(#gC)"/>
<circle cx="531.90" cy="144.50" r="5.4" fill="url(#gC)"/>
<circle cx="525.70" cy="133.20" r="5.4" fill="url(#gC)"/>
<circle cx="525.70" cy="148.20" r="5.4" fill="url(#gC)"/>
<circle cx="519.50" cy="136.90" r="5.4" fill="url(#gC)"/>
<circle cx="519.50" cy="144.50" r="5.4" fill="url(#gC)"/>
<circle cx="547.80" cy="126.10" r="5.4" fill="url(#gC)"/>
<circle cx="549.70" cy="119.10" r="5.4" fill="url(#gC)"/>
<circle cx="546.00" cy="112.90" r="5.4" fill="url(#gC)"/>
<circle cx="549.70" cy="106.70" r="5.4" fill="url(#gC)"/>
<circle cx="549.70" cy="185.90" r="5.4" fill="url(#gC)"/>
<circle cx="549.70" cy="198.50" r="5.4" fill="url(#gC)"/>
<circle cx="546.00" cy="192.20" r="5.4" fill="url(#gC)"/>
<circle cx="538.90" cy="238.00" r="5.4" fill="url(#gC)"/>
<circle cx="531.90" cy="239.90" r="5.4" fill="url(#gC)"/>
<circle cx="525.70" cy="236.20" r="5.4" fill="url(#gC)"/>
<circle cx="519.50" cy="239.90" r="5.4" fill="url(#gC)"/>
<circle cx="547.80" cy="229.10" r="5.4" fill="url(#gC)"/>
<circle cx="549.70" cy="222.10" r="5.4" fill="url(#gC)"/>
<circle cx="546.00" cy="215.90" r="5.4" fill="url(#gC)"/>
<circle cx="549.70" cy="209.70" r="5.4" fill="url(#gC)"/>
<circle cx="385.10" cy="45.90" r="4.6" fill="url(#gO)"/>
<circle cx="410.50" cy="45.90" r="4.6" fill="url(#gO)"/>
<circle cx="354.10" cy="76.90" r="4.6" fill="url(#gO)"/>
<circle cx="354.10" cy="101.50" r="4.6" fill="url(#gO)"/>
<circle cx="385.10" cy="148.90" r="4.6" fill="url(#gO)"/>
<circle cx="385.10" cy="132.50" r="4.6" fill="url(#gO)"/>
<circle cx="410.50" cy="148.90" r="4.6" fill="url(#gO)"/>
<circle cx="410.50" cy="132.50" r="4.6" fill="url(#gO)"/>
<circle cx="354.10" cy="179.90" r="4.6" fill="url(#gO)"/>
<circle cx="354.10" cy="204.50" r="4.6" fill="url(#gO)"/>
<circle cx="385.10" cy="235.50" r="4.6" fill="url(#gO)"/>
<circle cx="410.50" cy="235.50" r="4.6" fill="url(#gO)"/>
<circle cx="488.90" cy="45.90" r="4.6" fill="url(#gO)"/>
<circle cx="514.30" cy="45.90" r="4.6" fill="url(#gO)"/>
<circle cx="457.90" cy="76.90" r="4.6" fill="url(#gO)"/>
<circle cx="441.50" cy="76.90" r="4.6" fill="url(#gO)"/>
<circle cx="457.90" cy="101.50" r="4.6" fill="url(#gO)"/>
<circle cx="441.50" cy="101.50" r="4.6" fill="url(#gO)"/>
<circle cx="488.90" cy="148.90" r="4.6" fill="url(#gO)"/>
<circle cx="488.90" cy="132.50" r="4.6" fill="url(#gO)"/>
<circle cx="514.30" cy="148.90" r="4.6" fill="url(#gO)"/>
<circle cx="514.30" cy="132.50" r="4.6" fill="url(#gO)"/>
<circle cx="457.90" cy="179.90" r="4.6" fill="url(#gO)"/>
<circle cx="441.50" cy="179.90" r="4.6" fill="url(#gO)"/>
<circle cx="457.90" cy="204.50" r="4.6" fill="url(#gO)"/>
<circle cx="441.50" cy="204.50" r="4.6" fill="url(#gO)"/>
<circle cx="488.90" cy="235.50" r="4.6" fill="url(#gO)"/>
<circle cx="514.30" cy="235.50" r="4.6" fill="url(#gO)"/>
<circle cx="545.30" cy="76.90" r="4.6" fill="url(#gO)"/>
<circle cx="545.30" cy="101.50" r="4.6" fill="url(#gO)"/>
<circle cx="545.30" cy="179.90" r="4.6" fill="url(#gO)"/>
<circle cx="545.30" cy="204.50" r="4.6" fill="url(#gO)"/>
<circle cx="355.90" cy="37.70" r="5.0" fill="url(#gN)"/>
<circle cx="345.90" cy="47.70" r="5.0" fill="url(#gN)"/>
<circle cx="358.90" cy="50.50" r="5.0" fill="url(#gN)"/>
<circle cx="355.90" cy="140.70" r="5.0" fill="url(#gN)"/>
<circle cx="345.90" cy="150.70" r="5.0" fill="url(#gN)"/>
<circle cx="345.90" cy="130.70" r="5.0" fill="url(#gN)"/>
<circle cx="358.90" cy="153.50" r="5.0" fill="url(#gN)"/>
<circle cx="358.90" cy="127.90" r="5.0" fill="url(#gN)"/>
<circle cx="355.90" cy="243.70" r="5.0" fill="url(#gN)"/>
<circle cx="345.90" cy="233.70" r="5.0" fill="url(#gN)"/>
<circle cx="358.90" cy="230.90" r="5.0" fill="url(#gN)"/>
<circle cx="459.70" cy="37.70" r="5.0" fill="url(#gN)"/>
<circle cx="449.70" cy="47.70" r="5.0" fill="url(#gN)"/>
<circle cx="439.70" cy="37.70" r="5.0" fill="url(#gN)"/>
<circle cx="462.70" cy="50.50" r="5.0" fill="url(#gN)"/>
<circle cx="436.70" cy="50.50" r="5.0" fill="url(#gN)"/>
<circle cx="459.70" cy="140.70" r="5.0" fill="url(#gN)"/>
<circle cx="449.70" cy="150.70" r="5.0" fill="url(#gN)"/>
<circle cx="439.70" cy="140.70" r="5.0" fill="url(#gN)"/>
<circle cx="449.70" cy="130.70" r="5.0" fill="url(#gN)"/>
<circle cx="462.70" cy="153.50" r="5.0" fill="url(#gN)"/>
<circle cx="462.70" cy="127.90" r="5.0" fill="url(#gN)"/>
<circle cx="436.70" cy="153.50" r="5.0" fill="url(#gN)"/>
<circle cx="436.70" cy="127.90" r="5.0" fill="url(#gN)"/>
<circle cx="459.70" cy="243.70" r="5.0" fill="url(#gN)"/>
<circle cx="439.70" cy="243.70" r="5.0" fill="url(#gN)"/>
<circle cx="449.70" cy="233.70" r="5.0" fill="url(#gN)"/>
<circle cx="462.70" cy="230.90" r="5.0" fill="url(#gN)"/>
<circle cx="436.70" cy="230.90" r="5.0" fill="url(#gN)"/>
<circle cx="553.50" cy="47.70" r="5.0" fill="url(#gN)"/>
<circle cx="543.50" cy="37.70" r="5.0" fill="url(#gN)"/>
<circle cx="540.50" cy="50.50" r="5.0" fill="url(#gN)"/>
<circle cx="553.50" cy="150.70" r="5.0" fill="url(#gN)"/>
<circle cx="543.50" cy="140.70" r="5.0" fill="url(#gN)"/>
<circle cx="553.50" cy="130.70" r="5.0" fill="url(#gN)"/>
<circle cx="540.50" cy="153.50" r="5.0" fill="url(#gN)"/>
<circle cx="540.50" cy="127.90" r="5.0" fill="url(#gN)"/>
<circle cx="543.50" cy="243.70" r="5.0" fill="url(#gN)"/>
<circle cx="553.50" cy="233.70" r="5.0" fill="url(#gN)"/>
<circle cx="540.50" cy="230.90" r="5.0" fill="url(#gN)"/>
<circle cx="345.90" cy="37.70" r="5.0" fill="url(#gM)"/>
<circle cx="345.90" cy="140.70" r="5.0" fill="url(#gM)"/>
<circle cx="345.90" cy="243.70" r="5.0" fill="url(#gM)"/>
<circle cx="449.70" cy="37.70" r="5.0" fill="url(#gM)"/>
<circle cx="449.70" cy="140.70" r="5.0" fill="url(#gM)"/>
<circle cx="449.70" cy="243.70" r="5.0" fill="url(#gM)"/>
<circle cx="553.50" cy="37.70" r="5.0" fill="url(#gM)"/>
<circle cx="553.50" cy="140.70" r="5.0" fill="url(#gM)"/>
<circle cx="553.50" cy="243.70" r="5.0" fill="url(#gM)"/>
<g stroke="#e6e018" stroke-width="2.3" fill="none"><line x1="449.7" y1="37.7" x2="548.2" y2="37.7"/><line x1="449.7" y1="37.7" x2="449.7" y2="135.5"/></g>
<path d="M553.2,37.7 L546.2,34.7 L546.2,40.7 Z" fill="#e6e018"/>
<path d="M449.7,140.5 L446.7,133.5 L452.7,133.5 Z" fill="#e6e018"/>
<text x="0" y="0" transform="translate(502,31.5) scale(1,1.13)" font-family="Liberation Sans" font-size="12.5" fill="#151515" text-anchor="middle" font-weight="bold" >2.01 nm</text>
<text x="590.2" y="50.8" font-family="Liberation Sans" font-size="12.8" fill="#3a3a3a" text-anchor="start" font-weight="normal" stroke="#3a3a3a" stroke-width="0.3" >(d)</text>
<circle cx="621.90" cy="74.80" r="4.0" fill="url(#gH)"/>
<circle cx="607.30" cy="89.40" r="4.0" fill="url(#gH)"/>
<circle cx="621.90" cy="154.05" r="4.0" fill="url(#gH)"/>
<circle cx="621.90" cy="127.65" r="4.0" fill="url(#gH)"/>
<circle cx="607.30" cy="168.65" r="4.0" fill="url(#gH)"/>
<circle cx="607.30" cy="113.05" r="4.0" fill="url(#gH)"/>
<circle cx="621.90" cy="206.90" r="4.0" fill="url(#gH)"/>
<circle cx="607.30" cy="192.30" r="4.0" fill="url(#gH)"/>
<circle cx="701.45" cy="74.80" r="4.0" fill="url(#gH)"/>
<circle cx="660.45" cy="89.40" r="4.0" fill="url(#gH)"/>
<circle cx="686.85" cy="89.40" r="4.0" fill="url(#gH)"/>
<circle cx="645.85" cy="74.80" r="4.0" fill="url(#gH)"/>
<circle cx="701.45" cy="154.05" r="4.0" fill="url(#gH)"/>
<circle cx="701.45" cy="127.65" r="4.0" fill="url(#gH)"/>
<circle cx="660.45" cy="168.65" r="4.0" fill="url(#gH)"/>
<circle cx="686.85" cy="168.65" r="4.0" fill="url(#gH)"/>
<circle cx="645.85" cy="127.65" r="4.0" fill="url(#gH)"/>
<circle cx="645.85" cy="154.05" r="4.0" fill="url(#gH)"/>
<circle cx="686.85" cy="113.05" r="4.0" fill="url(#gH)"/>
<circle cx="660.45" cy="113.05" r="4.0" fill="url(#gH)"/>
<circle cx="701.45" cy="206.90" r="4.0" fill="url(#gH)"/>
<circle cx="645.85" cy="206.90" r="4.0" fill="url(#gH)"/>
<circle cx="686.85" cy="192.30" r="4.0" fill="url(#gH)"/>
<circle cx="660.45" cy="192.30" r="4.0" fill="url(#gH)"/>
<circle cx="740.00" cy="89.40" r="4.0" fill="url(#gH)"/>
<circle cx="725.40" cy="74.80" r="4.0" fill="url(#gH)"/>
<circle cx="740.00" cy="168.65" r="4.0" fill="url(#gH)"/>
<circle cx="725.40" cy="127.65" r="4.0" fill="url(#gH)"/>
<circle cx="725.40" cy="154.05" r="4.0" fill="url(#gH)"/>
<circle cx="740.00" cy="113.05" r="4.0" fill="url(#gH)"/>
<circle cx="725.40" cy="206.90" r="4.0" fill="url(#gH)"/>
<circle cx="740.00" cy="192.30" r="4.0" fill="url(#gH)"/>
<circle cx="608.70" cy="67.30" r="5.4" fill="url(#gC)"/>
<circle cx="615.70" cy="65.40" r="5.4" fill="url(#gC)"/>
<circle cx="621.90" cy="69.10" r="5.4" fill="url(#gC)"/>
<circle cx="628.10" cy="65.40" r="5.4" fill="url(#gC)"/>
<circle cx="599.80" cy="76.20" r="5.4" fill="url(#gC)"/>
<circle cx="597.90" cy="83.20" r="5.4" fill="url(#gC)"/>
<circle cx="601.60" cy="89.40" r="5.4" fill="url(#gC)"/>
<circle cx="597.90" cy="95.60" r="5.4" fill="url(#gC)"/>
<circle cx="608.70" cy="146.55" r="5.4" fill="url(#gC)"/>
<circle cx="608.70" cy="135.15" r="5.4" fill="url(#gC)"/>
<circle cx="615.70" cy="144.65" r="5.4" fill="url(#gC)"/>
<circle cx="615.70" cy="137.05" r="5.4" fill="url(#gC)"/>
<circle cx="621.90" cy="148.35" r="5.4" fill="url(#gC)"/>
<circle cx="621.90" cy="133.35" r="5.4" fill="url(#gC)"/>
<circle cx="628.10" cy="144.65" r="5.4" fill="url(#gC)"/>
<circle cx="628.10" cy="137.05" r="5.4" fill="url(#gC)"/>
<circle cx="599.80" cy="155.45" r="5.4" fill="url(#gC)"/>
<circle cx="597.90" cy="162.45" r="5.4" fill="url(#gC)"/>
<circle cx="601.60" cy="168.65" r="5.4" fill="url(#gC)"/>
<circle cx="597.90" cy="174.85" r="5.4" fill="url(#gC)"/>
<circle cx="599.80" cy="126.25" r="5.4" fill="url(#gC)"/>
<circle cx="597.90" cy="119.25" r="5.4" fill="url(#gC)"/>
<circle cx="601.60" cy="113.05" r="5.4" fill="url(#gC)"/>
<circle cx="597.90" cy="106.85" r="5.4" fill="url(#gC)"/>
<circle cx="608.70" cy="214.40" r="5.4" fill="url(#gC)"/>
<circle cx="615.70" cy="216.30" r="5.4" fill="url(#gC)"/>
<circle cx="621.90" cy="212.60" r="5.4" fill="url(#gC)"/>
<circle cx="628.10" cy="216.30" r="5.4" fill="url(#gC)"/>
<circle cx="599.80" cy="205.50" r="5.4" fill="url(#gC)"/>
<circle cx="597.90" cy="198.50" r="5.4" fill="url(#gC)"/>
<circle cx="601.60" cy="192.30" r="5.4" fill="url(#gC)"/>
<circle cx="597.90" cy="186.10" r="5.4" fill="url(#gC)"/>
<circle cx="688.25" cy="67.30" r="5.4" fill="url(#gC)"/>
<circle cx="695.25" cy="65.40" r="5.4" fill="url(#gC)"/>
<circle cx="701.45" cy="69.10" r="5.4" fill="url(#gC)"/>
<circle cx="707.65" cy="65.40" r="5.4" fill="url(#gC)"/>
<circle cx="667.95" cy="76.20" r="5.4" fill="url(#gC)"/>
<circle cx="679.35" cy="76.20" r="5.4" fill="url(#gC)"/>
<circle cx="669.85" cy="83.20" r="5.4" fill="url(#gC)"/>
<circle cx="677.45" cy="83.20" r="5.4" fill="url(#gC)"/>
<circle cx="666.15" cy="89.40" r="5.4" fill="url(#gC)"/>
<circle cx="681.15" cy="89.40" r="5.4" fill="url(#gC)"/>
<circle cx="669.85" cy="95.60" r="5.4" fill="url(#gC)"/>
<circle cx="677.45" cy="95.60" r="5.4" fill="url(#gC)"/>
<circle cx="659.05" cy="67.30" r="5.4" fill="url(#gC)"/>
<circle cx="652.05" cy="65.40" r="5.4" fill="url(#gC)"/>
<circle cx="645.85" cy="69.10" r="5.4" fill="url(#gC)"/>
<circle cx="639.65" cy="65.40" r="5.4" fill="url(#gC)"/>
<circle cx="688.25" cy="146.55" r="5.4" fill="url(#gC)"/>
<circle cx="688.25" cy="135.15" r="5.4" fill="url(#gC)"/>
<circle cx="695.25" cy="144.65" r="5.4" fill="url(#gC)"/>
<circle cx="695.25" cy="137.05" r="5.4" fill="url(#gC)"/>
<circle cx="701.45" cy="148.35" r="5.4" fill="url(#gC)"/>
<circle cx="701.45" cy="133.35" r="5.4" fill="url(#gC)"/>
<circle cx="707.65" cy="144.65" r="5.4" fill="url(#gC)"/>
<circle cx="707.65" cy="137.05" r="5.4" fill="url(#gC)"/>
<circle cx="667.95" cy="155.45" r="5.4" fill="url(#gC)"/>
<circle cx="679.35" cy="155.45" r="5.4" fill="url(#gC)"/>
<circle cx="669.85" cy="162.45" r="5.4" fill="url(#gC)"/>
<circle cx="677.45" cy="162.45" r="5.4" fill="url(#gC)"/>
<circle cx="666.15" cy="168.65" r="5.4" fill="url(#gC)"/>
<circle cx="681.15" cy="168.65" r="5.4" fill="url(#gC)"/>
<circle cx="669.85" cy="174.85" r="5.4" fill="url(#gC)"/>
<circle cx="677.45" cy="174.85" r="5.4" fill="url(#gC)"/>
<circle cx="659.05" cy="135.15" r="5.4" fill="url(#gC)"/>
<circle cx="659.05" cy="146.55" r="5.4" fill="url(#gC)"/>
<circle cx="652.05" cy="137.05" r="5.4" fill="url(#gC)"/>
<circle cx="652.05" cy="144.65" r="5.4" fill="url(#gC)"/>
<circle cx="645.85" cy="133.35" r="5.4" fill="url(#gC)"/>
<circle cx="645.85" cy="148.35" r="5.4" fill="url(#gC)"/>
<circle cx="639.65" cy="137.05" r="5.4" fill="url(#gC)"/>
<circle cx="639.65" cy="144.65" r="5.4" fill="url(#gC)"/>
<circle cx="679.35" cy="126.25" r="5.4" fill="url(#gC)"/>
<circle cx="667.95" cy="126.25" r="5.4" fill="url(#gC)"/>
<circle cx="677.45" cy="119.25" r="5.4" fill="url(#gC)"/>
<circle cx="669.85" cy="119.25" r="5.4" fill="url(#gC)"/>
<circle cx="681.15" cy="113.05" r="5.4" fill="url(#gC)"/>
<circle cx="666.15" cy="113.05" r="5.4" fill="url(#gC)"/>
<circle cx="677.45" cy="106.85" r="5.4" fill="url(#gC)"/>
<circle cx="669.85" cy="106.85" r="5.4" fill="url(#gC)"/>
<circle cx="688.25" cy="214.40" r="5.4" fill="url(#gC)"/>
<circle cx="695.25" cy="216.30" r="5.4" fill="url(#gC)"/>
<circle cx="701.45" cy="212.60" r="5.4" fill="url(#gC)"/>
<circle cx="707.65" cy="216.30" r="5.4" fill="url(#gC)"/>
<circle cx="659.05" cy="214.40" r="5.4" fill="url(#gC)"/>
<circle cx="652.05" cy="216.30" r="5.4" fill="url(#gC)"/>
<circle cx="645.85" cy="212.60" r="5.4" fill="url(#gC)"/>
<circle cx="639.65" cy="216.30" r="5.4" fill="url(#gC)"/>
<circle cx="679.35" cy="205.50" r="5.4" fill="url(#gC)"/>
<circle cx="667.95" cy="205.50" r="5.4" fill="url(#gC)"/>
<circle cx="677.45" cy="198.50" r="5.4" fill="url(#gC)"/>
<circle cx="669.85" cy="198.50" r="5.4" fill="url(#gC)"/>
<circle cx="681.15" cy="192.30" r="5.4" fill="url(#gC)"/>
<circle cx="666.15" cy="192.30" r="5.4" fill="url(#gC)"/>
<circle cx="677.45" cy="186.10" r="5.4" fill="url(#gC)"/>
<circle cx="669.85" cy="186.10" r="5.4" fill="url(#gC)"/>
<circle cx="747.50" cy="76.20" r="5.4" fill="url(#gC)"/>
<circle cx="749.40" cy="83.20" r="5.4" fill="url(#gC)"/>
<circle cx="745.70" cy="89.40" r="5.4" fill="url(#gC)"/>
<circle cx="749.40" cy="95.60" r="5.4" fill="url(#gC)"/>
<circle cx="738.60" cy="67.30" r="5.4" fill="url(#gC)"/>
<circle cx="731.60" cy="65.40" r="5.4" fill="url(#gC)"/>
<circle cx="725.40" cy="69.10" r="5.4" fill="url(#gC)"/>
<circle cx="719.20" cy="65.40" r="5.4" fill="url(#gC)"/>
<circle cx="747.50" cy="155.45" r="5.4" fill="url(#gC)"/>
<circle cx="749.40" cy="162.45" r="5.4" fill="url(#gC)"/>
<circle cx="745.70" cy="168.65" r="5.4" fill="url(#gC)"/>
<circle cx="749.40" cy="174.85" r="5.4" fill="url(#gC)"/>
<circle cx="738.60" cy="135.15" r="5.4" fill="url(#gC)"/>
<circle cx="738.60" cy="146.55" r="5.4" fill="url(#gC)"/>
<circle cx="731.60" cy="137.05" r="5.4" fill="url(#gC)"/>
<circle cx="731.60" cy="144.65" r="5.4" fill="url(#gC)"/>
<circle cx="725.40" cy="133.35" r="5.4" fill="url(#gC)"/>
<circle cx="725.40" cy="148.35" r="5.4" fill="url(#gC)"/>
<circle cx="719.20" cy="137.05" r="5.4" fill="url(#gC)"/>
<circle cx="719.20" cy="144.65" r="5.4" fill="url(#gC)"/>
<circle cx="747.50" cy="126.25" r="5.4" fill="url(#gC)"/>
<circle cx="749.40" cy="119.25" r="5.4" fill="url(#gC)"/>
<circle cx="745.70" cy="113.05" r="5.4" fill="url(#gC)"/>
<circle cx="749.40" cy="106.85" r="5.4" fill="url(#gC)"/>
<circle cx="738.60" cy="214.40" r="5.4" fill="url(#gC)"/>
<circle cx="731.60" cy="216.30" r="5.4" fill="url(#gC)"/>
<circle cx="725.40" cy="212.60" r="5.4" fill="url(#gC)"/>
<circle cx="719.20" cy="216.30" r="5.4" fill="url(#gC)"/>
<circle cx="747.50" cy="205.50" r="5.4" fill="url(#gC)"/>
<circle cx="749.40" cy="198.50" r="5.4" fill="url(#gC)"/>
<circle cx="745.70" cy="192.30" r="5.4" fill="url(#gC)"/>
<circle cx="749.40" cy="186.10" r="5.4" fill="url(#gC)"/>
<circle cx="633.88" cy="69.80" r="4.6" fill="url(#gO)"/>
<circle cx="602.30" cy="101.22" r="4.6" fill="url(#gO)"/>
<circle cx="633.88" cy="149.05" r="4.6" fill="url(#gO)"/>
<circle cx="633.88" cy="132.65" r="4.6" fill="url(#gO)"/>
<circle cx="602.30" cy="180.47" r="4.6" fill="url(#gO)"/>
<circle cx="633.88" cy="211.90" r="4.6" fill="url(#gO)"/>
<circle cx="713.42" cy="69.80" r="4.6" fill="url(#gO)"/>
<circle cx="681.85" cy="101.22" r="4.6" fill="url(#gO)"/>
<circle cx="665.45" cy="101.22" r="4.6" fill="url(#gO)"/>
<circle cx="713.42" cy="149.05" r="4.6" fill="url(#gO)"/>
<circle cx="713.42" cy="132.65" r="4.6" fill="url(#gO)"/>
<circle cx="681.85" cy="180.47" r="4.6" fill="url(#gO)"/>
<circle cx="665.45" cy="180.47" r="4.6" fill="url(#gO)"/>
<circle cx="713.42" cy="211.90" r="4.6" fill="url(#gO)"/>
<circle cx="745.00" cy="101.22" r="4.6" fill="url(#gO)"/>
<circle cx="745.00" cy="180.47" r="4.6" fill="url(#gO)"/>
<circle cx="604.10" cy="61.60" r="5.0" fill="url(#gN)"/>
<circle cx="594.10" cy="71.60" r="5.0" fill="url(#gN)"/>
<circle cx="607.10" cy="74.40" r="5.0" fill="url(#gN)"/>
<circle cx="604.10" cy="140.85" r="5.0" fill="url(#gN)"/>
<circle cx="594.10" cy="150.85" r="5.0" fill="url(#gN)"/>
<circle cx="594.10" cy="130.85" r="5.0" fill="url(#gN)"/>
<circle cx="607.10" cy="153.65" r="5.0" fill="url(#gN)"/>
<circle cx="607.10" cy="128.05" r="5.0" fill="url(#gN)"/>
<circle cx="604.10" cy="220.10" r="5.0" fill="url(#gN)"/>
<circle cx="594.10" cy="210.10" r="5.0" fill="url(#gN)"/>
<circle cx="607.10" cy="207.30" r="5.0" fill="url(#gN)"/>
<circle cx="683.65" cy="61.60" r="5.0" fill="url(#gN)"/>
<circle cx="673.65" cy="71.60" r="5.0" fill="url(#gN)"/>
<circle cx="663.65" cy="61.60" r="5.0" fill="url(#gN)"/>
<circle cx="686.65" cy="74.40" r="5.0" fill="url(#gN)"/>
<circle cx="660.65" cy="74.40" r="5.0" fill="url(#gN)"/>
<circle cx="683.65" cy="140.85" r="5.0" fill="url(#gN)"/>
<circle cx="673.65" cy="150.85" r="5.0" fill="url(#gN)"/>
<circle cx="663.65" cy="140.85" r="5.0" fill="url(#gN)"/>
<circle cx="673.65" cy="130.85" r="5.0" fill="url(#gN)"/>
<circle cx="686.65" cy="153.65" r="5.0" fill="url(#gN)"/>
<circle cx="686.65" cy="128.05" r="5.0" fill="url(#gN)"/>
<circle cx="660.65" cy="153.65" r="5.0" fill="url(#gN)"/>
<circle cx="660.65" cy="128.05" r="5.0" fill="url(#gN)"/>
<circle cx="683.65" cy="220.10" r="5.0" fill="url(#gN)"/>
<circle cx="663.65" cy="220.10" r="5.0" fill="url(#gN)"/>
<circle cx="673.65" cy="210.10" r="5.0" fill="url(#gN)"/>
<circle cx="686.65" cy="207.30" r="5.0" fill="url(#gN)"/>
<circle cx="660.65" cy="207.30" r="5.0" fill="url(#gN)"/>
<circle cx="753.20" cy="71.60" r="5.0" fill="url(#gN)"/>
<circle cx="743.20" cy="61.60" r="5.0" fill="url(#gN)"/>
<circle cx="740.20" cy="74.40" r="5.0" fill="url(#gN)"/>
<circle cx="753.20" cy="150.85" r="5.0" fill="url(#gN)"/>
<circle cx="743.20" cy="140.85" r="5.0" fill="url(#gN)"/>
<circle cx="753.20" cy="130.85" r="5.0" fill="url(#gN)"/>
<circle cx="740.20" cy="153.65" r="5.0" fill="url(#gN)"/>
<circle cx="740.20" cy="128.05" r="5.0" fill="url(#gN)"/>
<circle cx="743.20" cy="220.10" r="5.0" fill="url(#gN)"/>
<circle cx="753.20" cy="210.10" r="5.0" fill="url(#gN)"/>
<circle cx="740.20" cy="207.30" r="5.0" fill="url(#gN)"/>
<circle cx="594.10" cy="61.60" r="5.0" fill="url(#gM)"/>
<circle cx="594.10" cy="140.85" r="5.0" fill="url(#gM)"/>
<circle cx="594.10" cy="220.10" r="5.0" fill="url(#gM)"/>
<circle cx="673.65" cy="61.60" r="5.0" fill="url(#gM)"/>
<circle cx="673.65" cy="140.85" r="5.0" fill="url(#gM)"/>
<circle cx="673.65" cy="220.10" r="5.0" fill="url(#gM)"/>
<circle cx="753.20" cy="61.60" r="5.0" fill="url(#gM)"/>
<circle cx="753.20" cy="140.85" r="5.0" fill="url(#gM)"/>
<circle cx="753.20" cy="220.10" r="5.0" fill="url(#gM)"/>
<g stroke="#e6e018" stroke-width="2.3" fill="none"><line x1="673.4" y1="61.5" x2="747.9" y2="61.5"/><line x1="673.4" y1="61.5" x2="673.4" y2="135.6"/></g>
<path d="M752.9,61.5 L745.9,58.5 L745.9,64.5 Z" fill="#e6e018"/>
<path d="M673.4,140.6 L670.4,133.6 L676.4,133.6 Z" fill="#e6e018"/>
<text x="0" y="0" transform="translate(712.3,55.4) scale(1,1.12)" font-family="Liberation Sans" font-size="12.8" fill="#151515" text-anchor="middle" font-weight="bold" >1.55 nm</text>
<rect x="341.20" y="267.80" width="218.40" height="11.2" rx="5.6" fill="#4a4a4a"/>
<rect x="385.10" y="268.40" width="2.4" height="10.0" fill="#d81010"/>
<rect x="409.80" y="268.40" width="2.4" height="10.0" fill="#d81010"/>
<circle cx="347.00" cy="273.40" r="5.4" fill="url(#sM)"/>
<circle cx="357.20" cy="273.40" r="5.4" fill="url(#sN)"/>
<circle cx="368.50" cy="273.40" r="5.4" fill="url(#sC)"/>
<circle cx="380.20" cy="273.40" r="5.4" fill="url(#sC)"/>
<circle cx="392.70" cy="273.40" r="5.4" fill="url(#sC)"/>
<circle cx="404.40" cy="273.40" r="5.4" fill="url(#sC)"/>
<circle cx="417.00" cy="273.40" r="5.4" fill="url(#sC)"/>
<circle cx="428.80" cy="273.40" r="5.4" fill="url(#sC)"/>
<circle cx="440.20" cy="273.40" r="5.4" fill="url(#sN)"/>
<rect x="488.50" y="268.40" width="2.4" height="10.0" fill="#d81010"/>
<rect x="513.20" y="268.40" width="2.4" height="10.0" fill="#d81010"/>
<circle cx="450.40" cy="273.40" r="5.4" fill="url(#sM)"/>
<circle cx="460.60" cy="273.40" r="5.4" fill="url(#sN)"/>
<circle cx="471.90" cy="273.40" r="5.4" fill="url(#sC)"/>
<circle cx="483.60" cy="273.40" r="5.4" fill="url(#sC)"/>
<circle cx="496.10" cy="273.40" r="5.4" fill="url(#sC)"/>
<circle cx="507.80" cy="273.40" r="5.4" fill="url(#sC)"/>
<circle cx="520.40" cy="273.40" r="5.4" fill="url(#sC)"/>
<circle cx="532.20" cy="273.40" r="5.4" fill="url(#sC)"/>
<circle cx="543.60" cy="273.40" r="5.4" fill="url(#sN)"/>
<circle cx="450.40" cy="273.40" r="5.4" fill="url(#sM)"/>
<circle cx="347.00" cy="273.40" r="5.4" fill="url(#sM)"/>
<circle cx="553.80" cy="273.40" r="5.4" fill="url(#sM)"/>
<rect x="341.20" y="285.20" width="218.40" height="11.2" rx="5.6" fill="#4a4a4a"/>
<rect x="385.10" y="285.80" width="2.4" height="10.0" fill="#d81010"/>
<rect x="409.80" y="285.80" width="2.4" height="10.0" fill="#d81010"/>
<circle cx="347.00" cy="290.80" r="5.4" fill="url(#sM)"/>
<circle cx="357.20" cy="290.80" r="5.4" fill="url(#sN)"/>
<circle cx="368.50" cy="290.80" r="5.4" fill="url(#sC)"/>
<circle cx="380.20" cy="290.80" r="5.4" fill="url(#sC)"/>
<circle cx="392.70" cy="290.80" r="5.4" fill="url(#sC)"/>
<circle cx="404.40" cy="290.80" r="5.4" fill="url(#sC)"/>
<circle cx="417.00" cy="290.80" r="5.4" fill="url(#sC)"/>
<circle cx="428.80" cy="290.80" r="5.4" fill="url(#sC)"/>
<circle cx="440.20" cy="290.80" r="5.4" fill="url(#sN)"/>
<rect x="488.50" y="285.80" width="2.4" height="10.0" fill="#d81010"/>
<rect x="513.20" y="285.80" width="2.4" height="10.0" fill="#d81010"/>
<circle cx="450.40" cy="290.80" r="5.4" fill="url(#sM)"/>
<circle cx="460.60" cy="290.80" r="5.4" fill="url(#sN)"/>
<circle cx="471.90" cy="290.80" r="5.4" fill="url(#sC)"/>
<circle cx="483.60" cy="290.80" r="5.4" fill="url(#sC)"/>
<circle cx="496.10" cy="290.80" r="5.4" fill="url(#sC)"/>
<circle cx="507.80" cy="290.80" r="5.4" fill="url(#sC)"/>
<circle cx="520.40" cy="290.80" r="5.4" fill="url(#sC)"/>
<circle cx="532.20" cy="290.80" r="5.4" fill="url(#sC)"/>
<circle cx="543.60" cy="290.80" r="5.4" fill="url(#sN)"/>
<circle cx="450.40" cy="290.80" r="5.4" fill="url(#sM)"/>
<circle cx="347.00" cy="290.80" r="5.4" fill="url(#sM)"/>
<circle cx="553.80" cy="290.80" r="5.4" fill="url(#sM)"/>
<rect x="341.20" y="302.70" width="218.40" height="11.2" rx="5.6" fill="#4a4a4a"/>
<rect x="385.10" y="303.30" width="2.4" height="10.0" fill="#d81010"/>
<rect x="409.80" y="303.30" width="2.4" height="10.0" fill="#d81010"/>
<circle cx="347.00" cy="308.30" r="5.4" fill="url(#sM)"/>
<circle cx="357.20" cy="308.30" r="5.4" fill="url(#sN)"/>
<circle cx="368.50" cy="308.30" r="5.4" fill="url(#sC)"/>
<circle cx="380.20" cy="308.30" r="5.4" fill="url(#sC)"/>
<circle cx="392.70" cy="308.30" r="5.4" fill="url(#sC)"/>
<circle cx="404.40" cy="308.30" r="5.4" fill="url(#sC)"/>
<circle cx="417.00" cy="308.30" r="5.4" fill="url(#sC)"/>
<circle cx="428.80" cy="308.30" r="5.4" fill="url(#sC)"/>
<circle cx="440.20" cy="308.30" r="5.4" fill="url(#sN)"/>
<rect x="488.50" y="303.30" width="2.4" height="10.0" fill="#d81010"/>
<rect x="513.20" y="303.30" width="2.4" height="10.0" fill="#d81010"/>
<circle cx="450.40" cy="308.30" r="5.4" fill="url(#sM)"/>
<circle cx="460.60" cy="308.30" r="5.4" fill="url(#sN)"/>
<circle cx="471.90" cy="308.30" r="5.4" fill="url(#sC)"/>
<circle cx="483.60" cy="308.30" r="5.4" fill="url(#sC)"/>
<circle cx="496.10" cy="308.30" r="5.4" fill="url(#sC)"/>
<circle cx="507.80" cy="308.30" r="5.4" fill="url(#sC)"/>
<circle cx="520.40" cy="308.30" r="5.4" fill="url(#sC)"/>
<circle cx="532.20" cy="308.30" r="5.4" fill="url(#sC)"/>
<circle cx="543.60" cy="308.30" r="5.4" fill="url(#sN)"/>
<circle cx="450.40" cy="308.30" r="5.4" fill="url(#sM)"/>
<circle cx="347.00" cy="308.30" r="5.4" fill="url(#sM)"/>
<circle cx="553.80" cy="308.30" r="5.4" fill="url(#sM)"/>
<line x1="563.3" y1="271.1" x2="563.3" y2="293.3" stroke="#151515" stroke-width="1.3"/>
<path d="M560.5,273.3 L563.3,268.1 L566.0999999999999,273.3 Z" fill="#151515"/>
<path d="M560.5,291.1 L563.3,296.3 L566.0999999999999,291.1 Z" fill="#151515"/>
<text x="0" y="0" transform="translate(575.6,279.6) rotate(-90)" font-family="Liberation Sans" font-size="13.8" font-weight="bold" fill="#151515" text-anchor="middle" dominant-baseline="central">3.49 &#197;</text>
<rect x="588.60" y="269.10" width="170.50" height="11.2" rx="5.6" fill="#4a4a4a"/>
<rect x="633.10" y="269.70" width="2.4" height="10.0" fill="#d81010"/>
<circle cx="594.40" cy="274.70" r="5.4" fill="url(#sM)"/>
<circle cx="604.60" cy="274.70" r="5.4" fill="url(#sN)"/>
<circle cx="615.60" cy="274.70" r="5.4" fill="url(#sC)"/>
<circle cx="627.40" cy="274.70" r="5.4" fill="url(#sC)"/>
<circle cx="641.10" cy="274.70" r="5.4" fill="url(#sC)"/>
<circle cx="652.90" cy="274.70" r="5.4" fill="url(#sC)"/>
<circle cx="663.65" cy="274.70" r="5.4" fill="url(#sN)"/>
<rect x="712.55" y="269.70" width="2.4" height="10.0" fill="#d81010"/>
<circle cx="673.85" cy="274.70" r="5.4" fill="url(#sM)"/>
<circle cx="684.05" cy="274.70" r="5.4" fill="url(#sN)"/>
<circle cx="695.05" cy="274.70" r="5.4" fill="url(#sC)"/>
<circle cx="706.85" cy="274.70" r="5.4" fill="url(#sC)"/>
<circle cx="720.55" cy="274.70" r="5.4" fill="url(#sC)"/>
<circle cx="732.35" cy="274.70" r="5.4" fill="url(#sC)"/>
<circle cx="743.10" cy="274.70" r="5.4" fill="url(#sN)"/>
<circle cx="673.85" cy="274.70" r="5.4" fill="url(#sM)"/>
<circle cx="594.40" cy="274.70" r="5.4" fill="url(#sM)"/>
<circle cx="753.30" cy="274.70" r="5.4" fill="url(#sM)"/>
<rect x="588.60" y="285.50" width="170.50" height="11.2" rx="5.6" fill="#4a4a4a"/>
<rect x="633.10" y="286.10" width="2.4" height="10.0" fill="#d81010"/>
<circle cx="594.40" cy="291.10" r="5.4" fill="url(#sM)"/>
<circle cx="604.60" cy="291.10" r="5.4" fill="url(#sN)"/>
<circle cx="615.60" cy="291.10" r="5.4" fill="url(#sC)"/>
<circle cx="627.40" cy="291.10" r="5.4" fill="url(#sC)"/>
<circle cx="641.10" cy="291.10" r="5.4" fill="url(#sC)"/>
<circle cx="652.90" cy="291.10" r="5.4" fill="url(#sC)"/>
<circle cx="663.65" cy="291.10" r="5.4" fill="url(#sN)"/>
<rect x="712.55" y="286.10" width="2.4" height="10.0" fill="#d81010"/>
<circle cx="673.85" cy="291.10" r="5.4" fill="url(#sM)"/>
<circle cx="684.05" cy="291.10" r="5.4" fill="url(#sN)"/>
<circle cx="695.05" cy="291.10" r="5.4" fill="url(#sC)"/>
<circle cx="706.85" cy="291.10" r="5.4" fill="url(#sC)"/>
<circle cx="720.55" cy="291.10" r="5.4" fill="url(#sC)"/>
<circle cx="732.35" cy="291.10" r="5.4" fill="url(#sC)"/>
<circle cx="743.10" cy="291.10" r="5.4" fill="url(#sN)"/>
<circle cx="673.85" cy="291.10" r="5.4" fill="url(#sM)"/>
<circle cx="594.40" cy="291.10" r="5.4" fill="url(#sM)"/>
<circle cx="753.30" cy="291.10" r="5.4" fill="url(#sM)"/>
<rect x="588.60" y="302.20" width="170.50" height="11.2" rx="5.6" fill="#4a4a4a"/>
<rect x="633.10" y="302.80" width="2.4" height="10.0" fill="#d81010"/>
<circle cx="594.40" cy="307.80" r="5.4" fill="url(#sM)"/>
<circle cx="604.60" cy="307.80" r="5.4" fill="url(#sN)"/>
<circle cx="615.60" cy="307.80" r="5.4" fill="url(#sC)"/>
<circle cx="627.40" cy="307.80" r="5.4" fill="url(#sC)"/>
<circle cx="641.10" cy="307.80" r="5.4" fill="url(#sC)"/>
<circle cx="652.90" cy="307.80" r="5.4" fill="url(#sC)"/>
<circle cx="663.65" cy="307.80" r="5.4" fill="url(#sN)"/>
<rect x="712.55" y="302.80" width="2.4" height="10.0" fill="#d81010"/>
<circle cx="673.85" cy="307.80" r="5.4" fill="url(#sM)"/>
<circle cx="684.05" cy="307.80" r="5.4" fill="url(#sN)"/>
<circle cx="695.05" cy="307.80" r="5.4" fill="url(#sC)"/>
<circle cx="706.85" cy="307.80" r="5.4" fill="url(#sC)"/>
<circle cx="720.55" cy="307.80" r="5.4" fill="url(#sC)"/>
<circle cx="732.35" cy="307.80" r="5.4" fill="url(#sC)"/>
<circle cx="743.10" cy="307.80" r="5.4" fill="url(#sN)"/>
<circle cx="673.85" cy="307.80" r="5.4" fill="url(#sM)"/>
<circle cx="594.40" cy="307.80" r="5.4" fill="url(#sM)"/>
<circle cx="753.30" cy="307.80" r="5.4" fill="url(#sM)"/>
<line x1="762.7" y1="271.6" x2="762.7" y2="293.1" stroke="#151515" stroke-width="1.3"/>
<path d="M759.9000000000001,273.8 L762.7,268.6 L765.5,273.8 Z" fill="#151515"/>
<path d="M759.9000000000001,290.90000000000003 L762.7,296.1 L765.5,290.90000000000003 Z" fill="#151515"/>
<text x="0" y="0" transform="translate(777.9,281.7) rotate(-90)" font-family="Liberation Sans" font-size="13.8" font-weight="bold" fill="#151515" text-anchor="middle" dominant-baseline="central">3.44 &#197;</text>
<clipPath id="clip0"><rect x="156" y="325.4" width="152.60" height="152.20"/></clipPath>
<filter id="tf0" filterUnits="userSpaceOnUse" x="151" y="320.4" width="162.60" height="162.20" color-interpolation-filters="sRGB"><feGaussianBlur in="SourceGraphic" stdDeviation="0.9" result="bl"/><feTurbulence type="fractalNoise" baseFrequency="0.9" numOctaves="2" seed="3" result="tn"/><feGaussianBlur in="tn" stdDeviation="0.35" result="tnb"/><feColorMatrix in="tnb" type="matrix" values="1 0 0 0 0  1 0 0 0 0  1 0 0 0 0  0 0 0 0 1" result="gn"/><feComposite in="bl" in2="gn" operator="arithmetic" k1="0" k2="1" k3="0.3" k4="-0.15" result="c1"/><feTurbulence type="fractalNoise" baseFrequency="0.16" numOctaves="2" seed="8" result="tm"/><feColorMatrix in="tm" type="matrix" values="1 0 0 0 0  1 0 0 0 0  1 0 0 0 0  0 0 0 0 1" result="gm"/><feComposite in="c1" in2="gm" operator="arithmetic" k1="0" k2="1" k3="0.12" k4="-0.06"/></filter>
<g clip-path="url(#clip0)"><g filter="url(#tf0)">
<rect x="144" y="313.4" width="176.60" height="176.20" fill="#6e6e6e"/>
<ellipse cx="302.2" cy="346.8" rx="2.6" ry="1.8" fill="#777777" opacity="0.7"/>
<ellipse cx="174.4" cy="424.5" rx="4.1" ry="2.8" fill="#757575" opacity="0.7"/>
<ellipse cx="302.4" cy="374.0" rx="5.2" ry="4.5" fill="#767676" opacity="0.7"/>
<ellipse cx="297.0" cy="433.2" rx="2.7" ry="2.3" fill="#757575" opacity="0.7"/>
<ellipse cx="203.4" cy="354.3" rx="6.3" ry="6.2" fill="#6f6f6f" opacity="0.7"/>
<ellipse cx="274.1" cy="471.7" rx="5.0" ry="4.3" fill="#727272" opacity="0.7"/>
<ellipse cx="195.4" cy="471.0" rx="3.9" ry="3.8" fill="#737373" opacity="0.7"/>
<ellipse cx="255.3" cy="347.0" rx="6.2" ry="4.2" fill="#717171" opacity="0.7"/>
<ellipse cx="163.5" cy="406.3" rx="2.6" ry="2.1" fill="#767676" opacity="0.7"/>
<ellipse cx="234.9" cy="387.7" rx="5.5" ry="4.0" fill="#757575" opacity="0.7"/>
<ellipse cx="213.0" cy="414.1" rx="3.8" ry="3.1" fill="#707070" opacity="0.7"/>
<ellipse cx="222.1" cy="427.9" rx="4.9" ry="4.9" fill="#676767" opacity="0.7"/>
<ellipse cx="210.3" cy="391.1" rx="4.3" ry="4.2" fill="#767676" opacity="0.7"/>
<ellipse cx="234.1" cy="386.4" rx="2.9" ry="2.0" fill="#757575" opacity="0.7"/>
<ellipse cx="239.4" cy="378.5" rx="4.0" ry="2.7" fill="#6b6b6b" opacity="0.7"/>
<ellipse cx="161.6" cy="406.9" rx="6.1" ry="4.1" fill="#717171" opacity="0.7"/>
<ellipse cx="261.9" cy="333.3" rx="4.3" ry="4.2" fill="#747474" opacity="0.7"/>
<ellipse cx="226.3" cy="454.2" rx="4.7" ry="4.0" fill="#6e6e6e" opacity="0.7"/>
<ellipse cx="307.3" cy="438.6" rx="4.6" ry="4.0" fill="#727272" opacity="0.7"/>
<ellipse cx="210.0" cy="444.8" rx="6.2" ry="6.0" fill="#707070" opacity="0.7"/>
<ellipse cx="158.8" cy="401.5" rx="5.4" ry="3.6" fill="#6b6b6b" opacity="0.7"/>
<ellipse cx="261.6" cy="391.5" rx="3.7" ry="3.7" fill="#666666" opacity="0.7"/>
<ellipse cx="209.8" cy="343.4" rx="3.5" ry="3.3" fill="#6a6a6a" opacity="0.7"/>
<ellipse cx="183.6" cy="367.5" rx="2.9" ry="2.0" fill="#6d6d6d" opacity="0.7"/>
<ellipse cx="208.5" cy="437.3" rx="6.7" ry="4.1" fill="#747474" opacity="0.7"/>
<ellipse cx="213.6" cy="454.6" rx="2.6" ry="2.1" fill="#696969" opacity="0.7"/>
<ellipse cx="214.4" cy="439.6" rx="5.7" ry="4.0" fill="#6d6d6d" opacity="0.7"/>
<ellipse cx="191.2" cy="365.9" rx="2.8" ry="1.9" fill="#717171" opacity="0.7"/>
<ellipse cx="291.7" cy="423.7" rx="2.8" ry="2.3" fill="#6e6e6e" opacity="0.7"/>
<ellipse cx="162.4" cy="399.5" rx="2.6" ry="1.6" fill="#737373" opacity="0.7"/>
<ellipse cx="252.4" cy="475.4" rx="6.3" ry="5.1" fill="#696969" opacity="0.7"/>
<ellipse cx="177.3" cy="377.5" rx="6.4" ry="3.9" fill="#747474" opacity="0.7"/>
<ellipse cx="214.0" cy="422.8" rx="3.3" ry="3.1" fill="#737373" opacity="0.7"/>
<ellipse cx="240.1" cy="380.5" rx="6.3" ry="4.3" fill="#6e6e6e" opacity="0.7"/>
<ellipse cx="198.4" cy="349.6" rx="6.3" ry="5.5" fill="#6e6e6e" opacity="0.7"/>
<ellipse cx="280.7" cy="473.6" rx="3.4" ry="3.2" fill="#6c6c6c" opacity="0.7"/>
<ellipse cx="272.2" cy="384.3" rx="5.5" ry="3.6" fill="#696969" opacity="0.7"/>
<ellipse cx="163.7" cy="383.2" rx="3.6" ry="3.5" fill="#6e6e6e" opacity="0.7"/>
<ellipse cx="179.3" cy="410.3" rx="6.4" ry="5.2" fill="#707070" opacity="0.7"/>
<ellipse cx="273.2" cy="328.7" rx="6.8" ry="6.2" fill="#717171" opacity="0.7"/>
<ellipse cx="281.9" cy="340.4" rx="2.8" ry="2.2" fill="#686868" opacity="0.7"/>
<ellipse cx="299.2" cy="463.8" rx="4.4" ry="3.9" fill="#707070" opacity="0.7"/>
<ellipse cx="206.7" cy="473.1" rx="6.7" ry="6.5" fill="#727272" opacity="0.7"/>
<ellipse cx="278.2" cy="424.7" rx="3.9" ry="2.7" fill="#6a6a6a" opacity="0.7"/>
<ellipse cx="164.8" cy="466.3" rx="3.8" ry="2.8" fill="#656565" opacity="0.7"/>
<ellipse cx="171.7" cy="393.2" rx="4.0" ry="3.2" fill="#686868" opacity="0.7"/>
<ellipse cx="219.3" cy="379.3" rx="6.2" ry="5.0" fill="#6b6b6b" opacity="0.7"/>
<ellipse cx="290.0" cy="471.4" rx="4.2" ry="4.1" fill="#666666" opacity="0.7"/>
<ellipse cx="234.5" cy="358.5" rx="3.1" ry="2.2" fill="#696969" opacity="0.7"/>
<ellipse cx="177.2" cy="332.9" rx="7.0" ry="4.5" fill="#747474" opacity="0.7"/>
<ellipse cx="229.4" cy="447.4" rx="4.8" ry="3.5" fill="#666666" opacity="0.7"/>
<ellipse cx="214.1" cy="464.6" rx="5.1" ry="4.4" fill="#6d6d6d" opacity="0.7"/>
<ellipse cx="163.4" cy="429.8" rx="6.1" ry="4.6" fill="#717171" opacity="0.7"/>
<ellipse cx="199.6" cy="326.9" rx="2.9" ry="2.2" fill="#686868" opacity="0.7"/>
<ellipse cx="274.8" cy="358.4" rx="4.6" ry="3.9" fill="#707070" opacity="0.7"/>
<ellipse cx="159.1" cy="465.5" rx="5.1" ry="3.6" fill="#6a6a6a" opacity="0.7"/>
<ellipse cx="261.1" cy="467.4" rx="4.0" ry="3.3" fill="#6c6c6c" opacity="0.7"/>
<ellipse cx="182.7" cy="387.2" rx="6.6" ry="6.2" fill="#6f6f6f" opacity="0.7"/>
<ellipse cx="196.0" cy="457.6" rx="6.0" ry="4.9" fill="#696969" opacity="0.7"/>
<ellipse cx="260.1" cy="412.6" rx="5.2" ry="4.3" fill="#696969" opacity="0.7"/>
<ellipse cx="210.1" cy="446.8" rx="4.2" ry="3.5" fill="#777777" opacity="0.7"/>
<ellipse cx="190.8" cy="388.7" rx="3.1" ry="1.9" fill="#727272" opacity="0.7"/>
<ellipse cx="248.3" cy="372.3" rx="6.0" ry="5.2" fill="#676767" opacity="0.7"/>
<ellipse cx="265.0" cy="360.9" rx="3.1" ry="2.7" fill="#6c6c6c" opacity="0.7"/>
<ellipse cx="195.8" cy="326.7" rx="4.5" ry="3.0" fill="#747474" opacity="0.7"/>
<ellipse cx="299.6" cy="402.8" rx="3.2" ry="2.4" fill="#676767" opacity="0.7"/>
<ellipse cx="228.7" cy="352.1" rx="2.9" ry="2.0" fill="#6e6e6e" opacity="0.7"/>
<ellipse cx="223.8" cy="394.0" rx="5.6" ry="3.9" fill="#6f6f6f" opacity="0.7"/>
<ellipse cx="183.4" cy="456.1" rx="2.7" ry="1.7" fill="#676767" opacity="0.7"/>
<ellipse cx="282.1" cy="407.7" rx="6.7" ry="4.9" fill="#707070" opacity="0.7"/>
<path d="M140,315 L188,315 C186,335 184,350 182,367 C180,380 178,395 180,408 C183,422 188,435 192,450 C195,462 197,470 198,490 L140,490 Z" fill="#7f7f7f"/>
<path d="M188,315 C186,335 184,350 182,367 C180,380 178,395 180,408 C183,422 188,435 192,450 C195,462 197,470 198,490" fill="none" stroke="#9c9c9c" stroke-width="1.5"/>
<path d="M183,345 C192,342 200,350 210,352 C220,356 226,370 222,390 C218,410 226,430 222,448 C215,462 205,468 195,460 C188,440 182,420 181,400 C180,380 181,360 183,345 Z" fill="#6a6a6a"/>
<ellipse cx="242" cy="347" rx="9" ry="12" fill="#606060" transform="rotate(0 242 347)"/>
<ellipse cx="268" cy="400" rx="23" ry="16" fill="#585858" transform="rotate(0 268 400)"/>
<ellipse cx="298" cy="400" rx="10" ry="18" fill="#646464" transform="rotate(0 298 400)"/>
<ellipse cx="290" cy="462" rx="25" ry="18" fill="#767676" transform="rotate(0 290 462)"/>
</g></g>
<filter id="if0" filterUnits="userSpaceOnUse" x="250.3" y="326.7" width="57.80" height="56.90" color-interpolation-filters="sRGB"><feGaussianBlur in="SourceGraphic" stdDeviation="0.6" result="bl"/><feTurbulence type="fractalNoise" baseFrequency="0.45" numOctaves="2" seed="14" result="tn"/><feColorMatrix in="tn" type="matrix" values="1 0 0 0 0  1 0 0 0 0  1 0 0 0 0  0 0 0 0 1" result="gn"/><feComposite in="bl" in2="gn" operator="arithmetic" k1="0" k2="1" k3="0.7" k4="-0.35"/></filter>
<rect x="250.3" y="326.7" width="57.80" height="56.90" fill="url(#lat0)" filter="url(#if0)"/>
<rect x="251.3" y="327.7" width="55.80" height="54.90" fill="none" stroke="#dcdc1e" stroke-width="1.8"/>
<text x="257" y="356.9" font-family="Liberation Sans" font-size="9.0" fill="#e8e810" text-anchor="start" font-weight="bold" >2.0 nm</text>
<line x1="296.5" y1="336.9" x2="279.6" y2="377.3" stroke="#e2e21c" stroke-width="1.1"/>
<line x1="301.3" y1="337.8" x2="284.0" y2="378.3" stroke="#e2e21c" stroke-width="1.1"/>
<rect x="199.1" y="367" width="17.90" height="17.40" fill="none" stroke="#d2d21e" stroke-width="1.1"/>
<text x="163.6" y="340.9" font-family="Liberation Sans" font-size="13.5" fill="#e8e8e8" text-anchor="start" font-weight="normal" >(e)</text>
<text x="0" y="0" transform="translate(168.6,459.1) scale(1,1.1)" font-family="Liberation Sans" font-size="15.2" fill="#f4f4f4" text-anchor="start" font-weight="normal" >50 nm</text>
<rect x="170.2" y="464.1" width="37.00" height="3.8" fill="#f4f4f4"/>
<clipPath id="clip1"><rect x="312.5" y="325.4" width="152.50" height="152.20"/></clipPath>
<filter id="tf1" filterUnits="userSpaceOnUse" x="307.5" y="320.4" width="162.50" height="162.20" color-interpolation-filters="sRGB"><feGaussianBlur in="SourceGraphic" stdDeviation="0.9" result="bl"/><feTurbulence type="fractalNoise" baseFrequency="0.9" numOctaves="2" seed="5" result="tn"/><feGaussianBlur in="tn" stdDeviation="0.35" result="tnb"/><feColorMatrix in="tnb" type="matrix" values="1 0 0 0 0  1 0 0 0 0  1 0 0 0 0  0 0 0 0 1" result="gn"/><feComposite in="bl" in2="gn" operator="arithmetic" k1="0" k2="1" k3="0.3" k4="-0.15" result="c1"/><feTurbulence type="fractalNoise" baseFrequency="0.16" numOctaves="2" seed="10" result="tm"/><feColorMatrix in="tm" type="matrix" values="1 0 0 0 0  1 0 0 0 0  1 0 0 0 0  0 0 0 0 1" result="gm"/><feComposite in="c1" in2="gm" operator="arithmetic" k1="0" k2="1" k3="0.12" k4="-0.06"/></filter>
<g clip-path="url(#clip1)"><g filter="url(#tf1)">
<rect x="300.5" y="313.4" width="176.50" height="176.20" fill="#6e6e6e"/>
<ellipse cx="362.6" cy="475.0" rx="6.8" ry="6.2" fill="#767676" opacity="0.7"/>
<ellipse cx="445.9" cy="325.5" rx="5.3" ry="4.7" fill="#696969" opacity="0.7"/>
<ellipse cx="378.4" cy="410.6" rx="4.9" ry="4.6" fill="#6f6f6f" opacity="0.7"/>
<ellipse cx="462.2" cy="378.0" rx="6.1" ry="4.6" fill="#757575" opacity="0.7"/>
<ellipse cx="331.3" cy="401.1" rx="5.9" ry="4.0" fill="#6e6e6e" opacity="0.7"/>
<ellipse cx="420.1" cy="374.8" rx="6.5" ry="5.4" fill="#686868" opacity="0.7"/>
<ellipse cx="371.3" cy="475.3" rx="3.1" ry="2.4" fill="#757575" opacity="0.7"/>
<ellipse cx="369.2" cy="357.1" rx="4.7" ry="4.7" fill="#767676" opacity="0.7"/>
<ellipse cx="455.8" cy="418.4" rx="3.6" ry="3.1" fill="#6e6e6e" opacity="0.7"/>
<ellipse cx="357.6" cy="475.6" rx="2.9" ry="2.0" fill="#696969" opacity="0.7"/>
<ellipse cx="338.0" cy="335.1" rx="3.6" ry="3.5" fill="#6c6c6c" opacity="0.7"/>
<ellipse cx="395.6" cy="420.5" rx="4.1" ry="3.4" fill="#686868" opacity="0.7"/>
<ellipse cx="423.5" cy="338.3" rx="5.4" ry="4.7" fill="#696969" opacity="0.7"/>
<ellipse cx="366.7" cy="347.9" rx="3.1" ry="2.6" fill="#737373" opacity="0.7"/>
<ellipse cx="325.5" cy="463.2" rx="3.7" ry="2.3" fill="#6a6a6a" opacity="0.7"/>
<ellipse cx="358.3" cy="410.6" rx="6.5" ry="5.2" fill="#6a6a6a" opacity="0.7"/>
<ellipse cx="324.7" cy="429.9" rx="3.9" ry="2.7" fill="#6c6c6c" opacity="0.7"/>
<ellipse cx="437.3" cy="474.6" rx="3.1" ry="2.0" fill="#6d6d6d" opacity="0.7"/>
<ellipse cx="426.9" cy="463.5" rx="3.1" ry="2.2" fill="#717171" opacity="0.7"/>
<ellipse cx="381.1" cy="412.5" rx="4.2" ry="3.1" fill="#717171" opacity="0.7"/>
<ellipse cx="388.1" cy="379.7" rx="4.4" ry="3.3" fill="#686868" opacity="0.7"/>
<ellipse cx="329.4" cy="419.9" rx="4.4" ry="4.2" fill="#6d6d6d" opacity="0.7"/>
<ellipse cx="336.3" cy="405.9" rx="5.2" ry="4.7" fill="#707070" opacity="0.7"/>
<ellipse cx="366.7" cy="466.2" rx="5.5" ry="4.6" fill="#666666" opacity="0.7"/>
<ellipse cx="391.3" cy="467.7" rx="5.8" ry="5.0" fill="#717171" opacity="0.7"/>
<ellipse cx="420.6" cy="393.4" rx="4.7" ry="2.9" fill="#6f6f6f" opacity="0.7"/>
<ellipse cx="390.3" cy="389.8" rx="4.4" ry="3.8" fill="#6f6f6f" opacity="0.7"/>
<ellipse cx="372.0" cy="412.8" rx="3.6" ry="3.1" fill="#777777" opacity="0.7"/>
<ellipse cx="419.2" cy="437.8" rx="2.6" ry="2.0" fill="#686868" opacity="0.7"/>
<ellipse cx="379.5" cy="385.9" rx="4.8" ry="4.3" fill="#707070" opacity="0.7"/>
<ellipse cx="418.2" cy="387.3" rx="6.3" ry="6.2" fill="#747474" opacity="0.7"/>
<ellipse cx="314.6" cy="413.3" rx="3.3" ry="3.2" fill="#757575" opacity="0.7"/>
<ellipse cx="414.4" cy="374.5" rx="6.4" ry="5.6" fill="#6e6e6e" opacity="0.7"/>
<ellipse cx="341.5" cy="341.7" rx="6.3" ry="4.7" fill="#747474" opacity="0.7"/>
<ellipse cx="325.2" cy="370.7" rx="6.6" ry="5.9" fill="#696969" opacity="0.7"/>
<ellipse cx="360.3" cy="469.0" rx="4.0" ry="3.2" fill="#767676" opacity="0.7"/>
<ellipse cx="313.8" cy="385.4" rx="4.4" ry="2.8" fill="#686868" opacity="0.7"/>
<ellipse cx="397.8" cy="436.0" rx="5.8" ry="3.9" fill="#6b6b6b" opacity="0.7"/>
<ellipse cx="382.3" cy="435.0" rx="3.5" ry="3.4" fill="#757575" opacity="0.7"/>
<ellipse cx="364.2" cy="347.6" rx="5.0" ry="4.8" fill="#686868" opacity="0.7"/>
<ellipse cx="402.5" cy="388.5" rx="6.4" ry="5.7" fill="#737373" opacity="0.7"/>
<ellipse cx="327.7" cy="382.5" rx="4.0" ry="2.8" fill="#747474" opacity="0.7"/>
<ellipse cx="329.1" cy="393.4" rx="3.9" ry="2.9" fill="#717171" opacity="0.7"/>
<ellipse cx="331.3" cy="427.1" rx="6.7" ry="5.5" fill="#717171" opacity="0.7"/>
<ellipse cx="323.5" cy="355.8" rx="5.5" ry="4.3" fill="#767676" opacity="0.7"/>
<ellipse cx="460.6" cy="341.9" rx="3.8" ry="3.3" fill="#6a6a6a" opacity="0.7"/>
<ellipse cx="368.2" cy="425.1" rx="2.7" ry="2.4" fill="#717171" opacity="0.7"/>
<ellipse cx="340.9" cy="350.4" rx="4.4" ry="3.4" fill="#6d6d6d" opacity="0.7"/>
<ellipse cx="457.5" cy="346.2" rx="5.3" ry="4.5" fill="#6e6e6e" opacity="0.7"/>
<ellipse cx="356.3" cy="441.1" rx="6.2" ry="4.6" fill="#656565" opacity="0.7"/>
<ellipse cx="313.1" cy="415.5" rx="5.9" ry="5.8" fill="#6c6c6c" opacity="0.7"/>
<ellipse cx="430.7" cy="426.2" rx="3.0" ry="2.8" fill="#6a6a6a" opacity="0.7"/>
<ellipse cx="385.1" cy="360.1" rx="2.5" ry="1.8" fill="#727272" opacity="0.7"/>
<ellipse cx="328.6" cy="401.5" rx="5.7" ry="3.4" fill="#6f6f6f" opacity="0.7"/>
<ellipse cx="452.9" cy="384.9" rx="5.2" ry="3.9" fill="#6a6a6a" opacity="0.7"/>
<ellipse cx="330.3" cy="444.2" rx="3.2" ry="2.9" fill="#707070" opacity="0.7"/>
<ellipse cx="462.1" cy="328.7" rx="5.7" ry="3.4" fill="#6b6b6b" opacity="0.7"/>
<ellipse cx="397.7" cy="387.5" rx="4.5" ry="3.0" fill="#686868" opacity="0.7"/>
<ellipse cx="331.4" cy="400.9" rx="2.6" ry="2.3" fill="#757575" opacity="0.7"/>
<ellipse cx="455.1" cy="435.9" rx="6.2" ry="5.6" fill="#757575" opacity="0.7"/>
<ellipse cx="424.9" cy="393.8" rx="6.3" ry="5.5" fill="#757575" opacity="0.7"/>
<ellipse cx="456.0" cy="447.9" rx="3.4" ry="2.4" fill="#777777" opacity="0.7"/>
<ellipse cx="341.2" cy="429.7" rx="6.9" ry="4.6" fill="#727272" opacity="0.7"/>
<ellipse cx="364.2" cy="380.0" rx="5.9" ry="5.3" fill="#676767" opacity="0.7"/>
<ellipse cx="347.5" cy="329.8" rx="6.7" ry="6.1" fill="#747474" opacity="0.7"/>
<ellipse cx="440.3" cy="405.0" rx="6.5" ry="5.1" fill="#707070" opacity="0.7"/>
<ellipse cx="428.1" cy="444.4" rx="5.4" ry="4.4" fill="#6b6b6b" opacity="0.7"/>
<ellipse cx="336.9" cy="387.6" rx="5.6" ry="4.5" fill="#727272" opacity="0.7"/>
<ellipse cx="386.3" cy="456.3" rx="5.0" ry="3.2" fill="#6f6f6f" opacity="0.7"/>
<ellipse cx="432.2" cy="456.6" rx="6.9" ry="4.3" fill="#737373" opacity="0.7"/>
<path d="M300,315 L356,315 C358,340 360,360 368,372 C355,385 335,390 300,392 Z" fill="#767676"/>
<path d="M356,315 L377,315 C376,340 372,358 368,370 C362,358 358,340 356,315 Z" fill="#3a3a3a"/>
<path d="M380,315 L405,315 C404,335 402,350 398,354 C388,350 383,335 380,315 Z" fill="#585858"/>
<path d="M440,382 C446,400 455,430 470,450 L470,490 L470,370 Z" fill="#848484"/>
<path d="M450,390 C452,420 458,450 470,470 L470,380 Z" fill="#848484"/>
<ellipse cx="441" cy="410" rx="10" ry="12" fill="#5c5c5c" transform="rotate(0 441 410)"/>
<ellipse cx="404" cy="457" rx="12" ry="20" fill="#606060" transform="rotate(0 404 457)"/>
<ellipse cx="327" cy="438" rx="11" ry="10" fill="#606060" transform="rotate(0 327 438)"/>
<ellipse cx="322" cy="400" rx="14" ry="40" fill="#666666" transform="rotate(0 322 400)"/>
</g></g>
<filter id="if1" filterUnits="userSpaceOnUse" x="406.4" y="325.8" width="57.90" height="56.70" color-interpolation-filters="sRGB"><feGaussianBlur in="SourceGraphic" stdDeviation="0.6" result="bl"/><feTurbulence type="fractalNoise" baseFrequency="0.45" numOctaves="2" seed="16" result="tn"/><feColorMatrix in="tn" type="matrix" values="1 0 0 0 0  1 0 0 0 0  1 0 0 0 0  0 0 0 0 1" result="gn"/><feComposite in="bl" in2="gn" operator="arithmetic" k1="0" k2="1" k3="0.7" k4="-0.35"/></filter>
<rect x="406.4" y="325.8" width="57.90" height="56.70" fill="url(#lat1)" filter="url(#if1)"/>
<rect x="407.4" y="326.8" width="55.90" height="54.70" fill="none" stroke="#dcdc1e" stroke-width="1.8"/>
<text x="432.1" y="348.9" font-family="Liberation Sans" font-size="9.0" fill="#e8e810" text-anchor="start" font-weight="bold" >2.0 nm</text>
<line x1="415.0" y1="338.4" x2="442.6" y2="374.6" stroke="#e2e21c" stroke-width="1.1"/>
<line x1="417.2" y1="337.0" x2="444.8" y2="373.2" stroke="#e2e21c" stroke-width="1.1"/>
<rect x="420.4" y="384.4" width="17.90" height="17.40" fill="none" stroke="#d2d21e" stroke-width="1.1"/>
<text x="318.7" y="340.9" font-family="Liberation Sans" font-size="13.5" fill="#e8e8e8" text-anchor="start" font-weight="normal" >(f)</text>
<text x="0" y="0" transform="translate(324.7,459.1) scale(1,1.1)" font-family="Liberation Sans" font-size="15.2" fill="#f4f4f4" text-anchor="start" font-weight="normal" >50 nm</text>
<rect x="326.3" y="464.1" width="23.50" height="3.8" fill="#f4f4f4"/>
<clipPath id="clip2"><rect x="468.9" y="325.4" width="151.70" height="152.20"/></clipPath>
<filter id="tf2" filterUnits="userSpaceOnUse" x="463.9" y="320.4" width="161.70" height="162.20" color-interpolation-filters="sRGB"><feGaussianBlur in="SourceGraphic" stdDeviation="0.9" result="bl"/><feTurbulence type="fractalNoise" baseFrequency="0.9" numOctaves="2" seed="8" result="tn"/><feGaussianBlur in="tn" stdDeviation="0.35" result="tnb"/><feColorMatrix in="tnb" type="matrix" values="1 0 0 0 0  1 0 0 0 0  1 0 0 0 0  0 0 0 0 1" result="gn"/><feComposite in="bl" in2="gn" operator="arithmetic" k1="0" k2="1" k3="0.3" k4="-0.15" result="c1"/><feTurbulence type="fractalNoise" baseFrequency="0.16" numOctaves="2" seed="13" result="tm"/><feColorMatrix in="tm" type="matrix" values="1 0 0 0 0  1 0 0 0 0  1 0 0 0 0  0 0 0 0 1" result="gm"/><feComposite in="c1" in2="gm" operator="arithmetic" k1="0" k2="1" k3="0.12" k4="-0.06"/></filter>
<g clip-path="url(#clip2)"><g filter="url(#tf2)">
<rect x="456.9" y="313.4" width="175.70" height="176.20" fill="#6c6c6c"/>
<ellipse cx="475.4" cy="415.2" rx="2.6" ry="2.6" fill="#6c6c6c" opacity="0.7"/>
<ellipse cx="512.9" cy="473.7" rx="5.4" ry="3.3" fill="#737373" opacity="0.7"/>
<ellipse cx="580.5" cy="404.0" rx="5.2" ry="5.2" fill="#6a6a6a" opacity="0.7"/>
<ellipse cx="568.3" cy="435.8" rx="5.6" ry="5.2" fill="#6d6d6d" opacity="0.7"/>
<ellipse cx="562.4" cy="411.4" rx="3.1" ry="2.1" fill="#6d6d6d" opacity="0.7"/>
<ellipse cx="557.8" cy="390.3" rx="5.9" ry="4.4" fill="#6e6e6e" opacity="0.7"/>
<ellipse cx="547.5" cy="358.8" rx="6.9" ry="5.2" fill="#727272" opacity="0.7"/>
<ellipse cx="501.9" cy="393.3" rx="5.4" ry="5.2" fill="#6b6b6b" opacity="0.7"/>
<ellipse cx="476.6" cy="377.4" rx="4.8" ry="3.8" fill="#646464" opacity="0.7"/>
<ellipse cx="555.7" cy="371.7" rx="7.0" ry="5.2" fill="#696969" opacity="0.7"/>
<ellipse cx="559.1" cy="365.7" rx="4.6" ry="2.9" fill="#666666" opacity="0.7"/>
<ellipse cx="572.8" cy="367.8" rx="3.2" ry="2.5" fill="#686868" opacity="0.7"/>
<ellipse cx="491.2" cy="431.2" rx="5.7" ry="3.5" fill="#747474" opacity="0.7"/>
<ellipse cx="516.7" cy="427.8" rx="6.3" ry="6.0" fill="#676767" opacity="0.7"/>
<ellipse cx="475.3" cy="408.7" rx="2.6" ry="2.3" fill="#666666" opacity="0.7"/>
<ellipse cx="536.7" cy="464.0" rx="6.7" ry="5.5" fill="#6b6b6b" opacity="0.7"/>
<ellipse cx="526.3" cy="350.7" rx="4.4" ry="3.4" fill="#717171" opacity="0.7"/>
<ellipse cx="590.9" cy="346.0" rx="3.0" ry="2.1" fill="#757575" opacity="0.7"/>
<ellipse cx="490.6" cy="460.2" rx="5.9" ry="5.6" fill="#737373" opacity="0.7"/>
<ellipse cx="487.3" cy="412.8" rx="5.4" ry="4.5" fill="#686868" opacity="0.7"/>
<ellipse cx="522.6" cy="374.0" rx="4.3" ry="2.9" fill="#6d6d6d" opacity="0.7"/>
<ellipse cx="580.8" cy="381.6" rx="4.3" ry="3.5" fill="#6a6a6a" opacity="0.7"/>
<ellipse cx="615.1" cy="460.3" rx="4.8" ry="3.0" fill="#656565" opacity="0.7"/>
<ellipse cx="597.6" cy="326.8" rx="3.7" ry="2.2" fill="#6c6c6c" opacity="0.7"/>
<ellipse cx="565.9" cy="460.7" rx="5.5" ry="4.9" fill="#707070" opacity="0.7"/>
<ellipse cx="564.8" cy="327.1" rx="2.7" ry="2.4" fill="#717171" opacity="0.7"/>
<ellipse cx="594.4" cy="436.9" rx="3.6" ry="2.9" fill="#636363" opacity="0.7"/>
<ellipse cx="475.3" cy="426.5" rx="3.9" ry="3.5" fill="#6f6f6f" opacity="0.7"/>
<ellipse cx="612.0" cy="404.2" rx="4.7" ry="3.3" fill="#666666" opacity="0.7"/>
<ellipse cx="476.0" cy="472.5" rx="3.2" ry="1.9" fill="#717171" opacity="0.7"/>
<ellipse cx="538.8" cy="353.7" rx="5.9" ry="5.3" fill="#656565" opacity="0.7"/>
<ellipse cx="590.5" cy="408.7" rx="4.9" ry="4.3" fill="#6b6b6b" opacity="0.7"/>
<ellipse cx="536.6" cy="458.2" rx="3.3" ry="2.8" fill="#656565" opacity="0.7"/>
<ellipse cx="497.7" cy="355.1" rx="5.3" ry="3.5" fill="#757575" opacity="0.7"/>
<ellipse cx="509.1" cy="363.0" rx="4.1" ry="3.3" fill="#6f6f6f" opacity="0.7"/>
<ellipse cx="502.7" cy="463.9" rx="3.3" ry="3.1" fill="#696969" opacity="0.7"/>
<ellipse cx="581.8" cy="430.2" rx="3.5" ry="3.1" fill="#676767" opacity="0.7"/>
<ellipse cx="513.0" cy="356.8" rx="4.9" ry="3.7" fill="#6c6c6c" opacity="0.7"/>
<ellipse cx="601.7" cy="369.6" rx="6.8" ry="4.2" fill="#696969" opacity="0.7"/>
<ellipse cx="526.9" cy="364.1" rx="3.0" ry="2.3" fill="#696969" opacity="0.7"/>
<ellipse cx="508.0" cy="433.6" rx="6.9" ry="4.6" fill="#656565" opacity="0.7"/>
<ellipse cx="519.7" cy="456.6" rx="4.1" ry="2.9" fill="#707070" opacity="0.7"/>
<ellipse cx="501.4" cy="335.7" rx="3.0" ry="2.6" fill="#6c6c6c" opacity="0.7"/>
<ellipse cx="575.1" cy="345.0" rx="3.5" ry="3.3" fill="#707070" opacity="0.7"/>
<ellipse cx="564.1" cy="359.3" rx="5.8" ry="3.6" fill="#747474" opacity="0.7"/>
<ellipse cx="558.9" cy="351.9" rx="6.1" ry="5.1" fill="#707070" opacity="0.7"/>
<ellipse cx="595.0" cy="413.0" rx="6.9" ry="4.3" fill="#6d6d6d" opacity="0.7"/>
<ellipse cx="521.6" cy="358.9" rx="5.7" ry="4.3" fill="#666666" opacity="0.7"/>
<ellipse cx="469.8" cy="473.5" rx="5.3" ry="4.7" fill="#707070" opacity="0.7"/>
<ellipse cx="570.8" cy="331.7" rx="3.5" ry="3.1" fill="#686868" opacity="0.7"/>
<ellipse cx="493.8" cy="360.3" rx="3.7" ry="2.5" fill="#6b6b6b" opacity="0.7"/>
<ellipse cx="524.5" cy="467.6" rx="5.9" ry="5.4" fill="#656565" opacity="0.7"/>
<ellipse cx="571.8" cy="443.5" rx="3.8" ry="3.7" fill="#727272" opacity="0.7"/>
<ellipse cx="525.1" cy="385.1" rx="4.3" ry="3.0" fill="#737373" opacity="0.7"/>
<ellipse cx="470.3" cy="338.7" rx="3.1" ry="2.0" fill="#636363" opacity="0.7"/>
<ellipse cx="550.3" cy="351.8" rx="6.5" ry="4.7" fill="#6d6d6d" opacity="0.7"/>
<ellipse cx="546.3" cy="372.6" rx="5.6" ry="4.3" fill="#727272" opacity="0.7"/>
<ellipse cx="602.2" cy="448.4" rx="5.8" ry="5.0" fill="#737373" opacity="0.7"/>
<ellipse cx="485.8" cy="457.3" rx="6.2" ry="4.8" fill="#666666" opacity="0.7"/>
<ellipse cx="545.6" cy="458.5" rx="3.3" ry="2.5" fill="#707070" opacity="0.7"/>
<ellipse cx="612.8" cy="350.5" rx="3.8" ry="2.4" fill="#727272" opacity="0.7"/>
<ellipse cx="520.6" cy="465.0" rx="3.2" ry="2.0" fill="#757575" opacity="0.7"/>
<ellipse cx="554.2" cy="402.6" rx="6.9" ry="5.4" fill="#6a6a6a" opacity="0.7"/>
<ellipse cx="566.4" cy="396.5" rx="4.0" ry="2.7" fill="#717171" opacity="0.7"/>
<ellipse cx="526.5" cy="402.5" rx="3.6" ry="2.6" fill="#696969" opacity="0.7"/>
<ellipse cx="606.5" cy="325.6" rx="3.1" ry="2.0" fill="#686868" opacity="0.7"/>
<ellipse cx="612.3" cy="476.8" rx="6.8" ry="6.4" fill="#646464" opacity="0.7"/>
<ellipse cx="612.7" cy="440.3" rx="6.6" ry="5.9" fill="#6a6a6a" opacity="0.7"/>
<ellipse cx="599.7" cy="413.5" rx="2.7" ry="1.7" fill="#676767" opacity="0.7"/>
<ellipse cx="560.3" cy="372.3" rx="5.6" ry="4.4" fill="#717171" opacity="0.7"/>
<path d="M460,315 L492,315 C490,345 488,368 494,382 L460,386 Z" fill="#666666"/>
<path d="M492,315 L532,315 C530,335 526,352 520,365 C516,373 512,378 508,380 C500,370 496,350 492,315 Z" fill="#545454"/>
<path d="M500,318 L522,318 C520,338 516,358 510,372 C505,358 502,338 500,318 Z" fill="#4a4a4a"/>
<path d="M460,386 C472,380 488,384 500,388 C512,384 528,388 536,398 C540,410 534,420 524,424 C514,430 500,426 490,430 C478,434 468,430 460,428 Z" fill="#5a5a5a"/>
<path d="M460,438 C474,434 490,440 506,438 C520,442 534,450 536,462 C538,472 534,480 530,490 L460,490 Z" fill="#5e5e5e"/>
<ellipse cx="527" cy="460" rx="11" ry="9" fill="#545454" transform="rotate(0 527 460)"/>
<path d="M522,365 C532,360 550,362 556,372 C552,380 538,382 526,380 Z" fill="#767676"/>
<ellipse cx="540" cy="414" rx="8" ry="12" fill="#747474" transform="rotate(0 540 414)"/>
<ellipse cx="556" cy="440" rx="12" ry="14" fill="#707070" transform="rotate(0 556 440)"/>
<path d="M591,383 C590,410 588,445 586,490 L630,490 L630,383 Z" fill="#7c7c7c"/>
<path d="M591,383 C590,410 588,445 586,490" fill="none" stroke="#505050" stroke-width="1.3"/>
</g></g>
<filter id="if2" filterUnits="userSpaceOnUse" x="563.7" y="326.7" width="56.40" height="55.40" color-interpolation-filters="sRGB"><feGaussianBlur in="SourceGraphic" stdDeviation="0.6" result="bl"/><feTurbulence type="fractalNoise" baseFrequency="0.45" numOctaves="2" seed="19" result="tn"/><feColorMatrix in="tn" type="matrix" values="1 0 0 0 0  1 0 0 0 0  1 0 0 0 0  0 0 0 0 1" result="gn"/><feComposite in="bl" in2="gn" operator="arithmetic" k1="0" k2="1" k3="0.7" k4="-0.35"/></filter>
<rect x="563.7" y="326.7" width="56.40" height="55.40" fill="url(#lat2)" filter="url(#if2)"/>
<rect x="564.7" y="327.7" width="54.40" height="53.40" fill="none" stroke="#dcdc1e" stroke-width="1.8"/>
<text x="583.0" y="350.2" font-family="Liberation Sans" font-size="9.0" fill="#e8e810" text-anchor="start" font-weight="bold" >1.5 nm</text>
<line x1="571.9" y1="353.2" x2="608.5" y2="361.4" stroke="#e2e21c" stroke-width="1.1"/>
<line x1="571.9" y1="357.1" x2="608.5" y2="365.3" stroke="#e2e21c" stroke-width="1.1"/>
<rect x="561" y="442.2" width="18.00" height="18.30" fill="none" stroke="#d2d21e" stroke-width="1.1"/>
<text x="475.8" y="340.9" font-family="Liberation Sans" font-size="13.5" fill="#e8e8e8" text-anchor="start" font-weight="normal" >(g)</text>
<text x="0" y="0" transform="translate(479.2,459.1) scale(1,1.1)" font-family="Liberation Sans" font-size="15.2" fill="#f4f4f4" text-anchor="start" font-weight="normal" >50 nm</text>
<rect x="480.8" y="464.1" width="37.40" height="3.8" fill="#f4f4f4"/>
<clipPath id="clip3"><rect x="625.1" y="325.4" width="152.50" height="152.20"/></clipPath>
<filter id="tf3" filterUnits="userSpaceOnUse" x="620.1" y="320.4" width="162.50" height="162.20" color-interpolation-filters="sRGB"><feGaussianBlur in="SourceGraphic" stdDeviation="0.9" result="bl"/><feTurbulence type="fractalNoise" baseFrequency="0.9" numOctaves="2" seed="13" result="tn"/><feGaussianBlur in="tn" stdDeviation="0.35" result="tnb"/><feColorMatrix in="tnb" type="matrix" values="1 0 0 0 0  1 0 0 0 0  1 0 0 0 0  0 0 0 0 1" result="gn"/><feComposite in="bl" in2="gn" operator="arithmetic" k1="0" k2="1" k3="0.3" k4="-0.15" result="c1"/><feTurbulence type="fractalNoise" baseFrequency="0.16" numOctaves="2" seed="18" result="tm"/><feColorMatrix in="tm" type="matrix" values="1 0 0 0 0  1 0 0 0 0  1 0 0 0 0  0 0 0 0 1" result="gm"/><feComposite in="c1" in2="gm" operator="arithmetic" k1="0" k2="1" k3="0.12" k4="-0.06"/></filter>
<g clip-path="url(#clip3)"><g filter="url(#tf3)">
<rect x="613.1" y="313.4" width="176.50" height="176.20" fill="#727272"/>
<ellipse cx="689.3" cy="411.4" rx="5.0" ry="4.6" fill="#747474" opacity="0.7"/>
<ellipse cx="772.5" cy="427.8" rx="6.1" ry="4.8" fill="#737373" opacity="0.7"/>
<ellipse cx="752.9" cy="477.0" rx="5.1" ry="3.2" fill="#747474" opacity="0.7"/>
<ellipse cx="756.6" cy="423.1" rx="5.4" ry="4.5" fill="#6c6c6c" opacity="0.7"/>
<ellipse cx="717.5" cy="349.3" rx="4.4" ry="4.0" fill="#767676" opacity="0.7"/>
<ellipse cx="733.8" cy="428.0" rx="6.8" ry="4.3" fill="#777777" opacity="0.7"/>
<ellipse cx="680.4" cy="330.8" rx="6.6" ry="4.5" fill="#757575" opacity="0.7"/>
<ellipse cx="652.5" cy="360.0" rx="5.2" ry="3.2" fill="#727272" opacity="0.7"/>
<ellipse cx="724.7" cy="369.0" rx="3.8" ry="3.6" fill="#7b7b7b" opacity="0.7"/>
<ellipse cx="758.7" cy="460.7" rx="5.1" ry="3.8" fill="#6a6a6a" opacity="0.7"/>
<ellipse cx="717.8" cy="467.0" rx="4.0" ry="3.9" fill="#6a6a6a" opacity="0.7"/>
<ellipse cx="734.4" cy="453.1" rx="4.7" ry="3.4" fill="#6e6e6e" opacity="0.7"/>
<ellipse cx="646.3" cy="381.2" rx="5.0" ry="5.0" fill="#7a7a7a" opacity="0.7"/>
<ellipse cx="699.2" cy="358.1" rx="6.8" ry="4.3" fill="#696969" opacity="0.7"/>
<ellipse cx="728.3" cy="416.9" rx="6.9" ry="6.4" fill="#757575" opacity="0.7"/>
<ellipse cx="759.6" cy="470.4" rx="6.5" ry="5.6" fill="#727272" opacity="0.7"/>
<ellipse cx="742.4" cy="329.1" rx="4.9" ry="4.4" fill="#707070" opacity="0.7"/>
<ellipse cx="654.7" cy="452.7" rx="3.5" ry="2.9" fill="#717171" opacity="0.7"/>
<ellipse cx="672.7" cy="435.2" rx="6.1" ry="4.7" fill="#7b7b7b" opacity="0.7"/>
<ellipse cx="765.9" cy="416.3" rx="6.1" ry="4.8" fill="#6c6c6c" opacity="0.7"/>
<ellipse cx="741.4" cy="422.3" rx="3.3" ry="3.0" fill="#747474" opacity="0.7"/>
<ellipse cx="754.5" cy="331.2" rx="2.9" ry="1.8" fill="#6f6f6f" opacity="0.7"/>
<ellipse cx="757.6" cy="448.8" rx="6.0" ry="4.4" fill="#737373" opacity="0.7"/>
<ellipse cx="695.5" cy="335.9" rx="6.2" ry="5.6" fill="#6d6d6d" opacity="0.7"/>
<ellipse cx="676.4" cy="349.4" rx="4.2" ry="4.1" fill="#6f6f6f" opacity="0.7"/>
<ellipse cx="630.8" cy="379.1" rx="4.4" ry="2.7" fill="#727272" opacity="0.7"/>
<ellipse cx="747.2" cy="381.1" rx="5.4" ry="3.8" fill="#6d6d6d" opacity="0.7"/>
<ellipse cx="668.7" cy="374.2" rx="6.5" ry="3.9" fill="#6c6c6c" opacity="0.7"/>
<ellipse cx="771.7" cy="357.3" rx="6.7" ry="6.4" fill="#757575" opacity="0.7"/>
<ellipse cx="691.7" cy="396.2" rx="6.1" ry="4.7" fill="#717171" opacity="0.7"/>
<ellipse cx="640.1" cy="422.1" rx="3.7" ry="2.6" fill="#797979" opacity="0.7"/>
<ellipse cx="755.2" cy="426.5" rx="5.8" ry="5.4" fill="#797979" opacity="0.7"/>
<ellipse cx="657.3" cy="399.5" rx="6.3" ry="4.0" fill="#717171" opacity="0.7"/>
<ellipse cx="670.9" cy="448.9" rx="2.7" ry="1.6" fill="#7a7a7a" opacity="0.7"/>
<ellipse cx="716.9" cy="360.9" rx="2.8" ry="2.6" fill="#787878" opacity="0.7"/>
<ellipse cx="650.3" cy="379.8" rx="3.4" ry="3.3" fill="#767676" opacity="0.7"/>
<ellipse cx="756.8" cy="353.3" rx="3.7" ry="3.7" fill="#747474" opacity="0.7"/>
<ellipse cx="663.0" cy="439.2" rx="3.9" ry="3.2" fill="#6e6e6e" opacity="0.7"/>
<ellipse cx="638.1" cy="395.5" rx="3.1" ry="2.1" fill="#6c6c6c" opacity="0.7"/>
<ellipse cx="738.5" cy="425.2" rx="6.4" ry="6.0" fill="#737373" opacity="0.7"/>
<ellipse cx="676.6" cy="442.5" rx="5.4" ry="4.3" fill="#767676" opacity="0.7"/>
<ellipse cx="718.2" cy="426.6" rx="4.5" ry="3.7" fill="#747474" opacity="0.7"/>
<ellipse cx="766.5" cy="425.0" rx="6.5" ry="6.0" fill="#757575" opacity="0.7"/>
<ellipse cx="751.8" cy="328.8" rx="5.4" ry="3.6" fill="#6e6e6e" opacity="0.7"/>
<ellipse cx="731.9" cy="403.8" rx="5.6" ry="5.5" fill="#747474" opacity="0.7"/>
<ellipse cx="764.8" cy="376.3" rx="2.6" ry="1.9" fill="#707070" opacity="0.7"/>
<ellipse cx="756.3" cy="353.7" rx="4.3" ry="3.3" fill="#797979" opacity="0.7"/>
<ellipse cx="652.1" cy="357.8" rx="3.9" ry="3.9" fill="#737373" opacity="0.7"/>
<ellipse cx="757.5" cy="473.9" rx="4.1" ry="4.0" fill="#737373" opacity="0.7"/>
<ellipse cx="646.8" cy="394.2" rx="6.4" ry="6.4" fill="#747474" opacity="0.7"/>
<ellipse cx="646.6" cy="363.9" rx="4.9" ry="4.7" fill="#797979" opacity="0.7"/>
<ellipse cx="711.2" cy="399.6" rx="6.1" ry="4.5" fill="#797979" opacity="0.7"/>
<ellipse cx="679.0" cy="353.2" rx="4.5" ry="4.4" fill="#727272" opacity="0.7"/>
<ellipse cx="694.4" cy="449.4" rx="3.1" ry="2.9" fill="#6e6e6e" opacity="0.7"/>
<ellipse cx="751.3" cy="395.1" rx="4.1" ry="3.6" fill="#737373" opacity="0.7"/>
<ellipse cx="691.6" cy="339.6" rx="4.3" ry="3.7" fill="#707070" opacity="0.7"/>
<ellipse cx="663.2" cy="454.9" rx="5.9" ry="4.2" fill="#6c6c6c" opacity="0.7"/>
<ellipse cx="722.4" cy="363.0" rx="4.3" ry="3.1" fill="#787878" opacity="0.7"/>
<ellipse cx="695.6" cy="400.6" rx="4.9" ry="4.4" fill="#797979" opacity="0.7"/>
<ellipse cx="671.5" cy="440.1" rx="6.9" ry="6.3" fill="#757575" opacity="0.7"/>
<ellipse cx="629.7" cy="381.4" rx="4.0" ry="3.2" fill="#737373" opacity="0.7"/>
<ellipse cx="666.6" cy="441.7" rx="4.3" ry="4.0" fill="#737373" opacity="0.7"/>
<ellipse cx="675.1" cy="378.5" rx="3.2" ry="2.1" fill="#707070" opacity="0.7"/>
<ellipse cx="660.5" cy="423.2" rx="3.6" ry="2.8" fill="#6d6d6d" opacity="0.7"/>
<ellipse cx="775.3" cy="359.5" rx="3.5" ry="2.6" fill="#6c6c6c" opacity="0.7"/>
<ellipse cx="740.6" cy="358.5" rx="4.8" ry="4.5" fill="#6c6c6c" opacity="0.7"/>
<ellipse cx="694.2" cy="396.4" rx="4.7" ry="3.2" fill="#6e6e6e" opacity="0.7"/>
<ellipse cx="681.4" cy="374.5" rx="4.7" ry="3.5" fill="#6c6c6c" opacity="0.7"/>
<ellipse cx="729.5" cy="434.3" rx="3.5" ry="2.8" fill="#737373" opacity="0.7"/>
<ellipse cx="709.3" cy="411.4" rx="6.1" ry="3.9" fill="#6b6b6b" opacity="0.7"/>
<path d="M615,320 L660,320 C655,345 650,370 640,378 L615,380 Z" fill="#787878"/>
<path d="M662,334 C668,326 682,326 690,330 C700,334 702,346 696,354 C690,362 680,364 672,360 C664,356 658,344 662,334 Z" fill="#606060"/>
<path d="M615,384 C625,378 640,382 650,380 C662,378 676,384 680,396 C684,406 678,414 672,420 C664,428 650,426 640,424 C630,428 620,426 615,420 Z" fill="#525252"/>
<path d="M678,432 C684,424 696,424 706,428 C714,434 716,446 712,456 C706,464 694,464 686,460 C678,454 674,442 678,432 Z" fill="#585858"/>
<path d="M700,374 C712,368 730,370 748,372 C758,374 764,380 762,386 C752,396 735,402 714,408 C704,400 698,386 700,374 Z" fill="#606060"/>
<ellipse cx="700" cy="400" rx="10" ry="12" fill="#686868" transform="rotate(0 700 400)"/>
<path d="M711,409 C725,400 745,392 763,382 L790,368 L790,490 L677,490 C690,478 704,470 715,459 C714,445 712,425 711,409 Z" fill="#808080"/>
</g></g>
<filter id="if3" filterUnits="userSpaceOnUse" x="719.7" y="326.7" width="56.40" height="55.00" color-interpolation-filters="sRGB"><feGaussianBlur in="SourceGraphic" stdDeviation="0.6" result="bl"/><feTurbulence type="fractalNoise" baseFrequency="0.45" numOctaves="2" seed="24" result="tn"/><feColorMatrix in="tn" type="matrix" values="1 0 0 0 0  1 0 0 0 0  1 0 0 0 0  0 0 0 0 1" result="gn"/><feComposite in="bl" in2="gn" operator="arithmetic" k1="0" k2="1" k3="0.7" k4="-0.35"/></filter>
<rect x="719.7" y="326.7" width="56.40" height="55.00" fill="url(#lat3)" filter="url(#if3)"/>
<rect x="720.7" y="327.7" width="54.40" height="53.00" fill="none" stroke="#dcdc1e" stroke-width="1.8"/>
<text x="745.2" y="366.6" font-family="Liberation Sans" font-size="9.0" fill="#e8e810" text-anchor="start" font-weight="bold" >1.5 nm</text>
<line x1="725.5" y1="362.9" x2="760.2" y2="341.7" stroke="#e2e21c" stroke-width="1.1"/>
<line x1="726.9" y1="366.2" x2="762.6" y2="344.1" stroke="#e2e21c" stroke-width="1.1"/>
<rect x="653.5" y="372" width="18.10" height="17.00" fill="none" stroke="#d2d21e" stroke-width="1.1"/>
<text x="633.7" y="340.9" font-family="Liberation Sans" font-size="13.5" fill="#e8e8e8" text-anchor="start" font-weight="normal" >(h)</text>
<text x="0" y="0" transform="translate(635.6,459.1) scale(1,1.1)" font-family="Liberation Sans" font-size="15.2" fill="#f4f4f4" text-anchor="start" font-weight="normal" >50 nm</text>
<rect x="637.2" y="464.1" width="37.00" height="3.8" fill="#f4f4f4"/>
<rect x="194.4" y="486.3" width="258.6" height="192.3" fill="none" stroke="#6a6a6a" stroke-width="1.4"/>
<line x1="194.40" y1="678.6" x2="194.40" y2="682.6" stroke="#6a6a6a" stroke-width="1.2"/>
<line x1="226.73" y1="678.6" x2="226.73" y2="681.0" stroke="#6a6a6a" stroke-width="1.2"/>
<line x1="259.05" y1="678.6" x2="259.05" y2="682.6" stroke="#6a6a6a" stroke-width="1.2"/>
<line x1="291.38" y1="678.6" x2="291.38" y2="681.0" stroke="#6a6a6a" stroke-width="1.2"/>
<line x1="323.70" y1="678.6" x2="323.70" y2="682.6" stroke="#6a6a6a" stroke-width="1.2"/>
<line x1="356.02" y1="678.6" x2="356.02" y2="681.0" stroke="#6a6a6a" stroke-width="1.2"/>
<line x1="388.35" y1="678.6" x2="388.35" y2="682.6" stroke="#6a6a6a" stroke-width="1.2"/>
<line x1="420.68" y1="678.6" x2="420.68" y2="681.0" stroke="#6a6a6a" stroke-width="1.2"/>
<line x1="453.00" y1="678.6" x2="453.00" y2="682.6" stroke="#6a6a6a" stroke-width="1.2"/>
<text x="194.40" y="692.6" font-family="Liberation Sans" font-size="8.8" fill="#3a3a3a" text-anchor="middle" font-weight="normal" stroke="#3a3a3a" stroke-width="0.3" >0</text>
<text x="259.05" y="692.6" font-family="Liberation Sans" font-size="8.8" fill="#3a3a3a" text-anchor="middle" font-weight="normal" stroke="#3a3a3a" stroke-width="0.3" >2</text>
<text x="323.70" y="692.6" font-family="Liberation Sans" font-size="8.8" fill="#3a3a3a" text-anchor="middle" font-weight="normal" stroke="#3a3a3a" stroke-width="0.3" >4</text>
<text x="388.35" y="692.6" font-family="Liberation Sans" font-size="8.8" fill="#3a3a3a" text-anchor="middle" font-weight="normal" stroke="#3a3a3a" stroke-width="0.3" >6</text>
<text x="453.00" y="692.6" font-family="Liberation Sans" font-size="8.8" fill="#3a3a3a" text-anchor="middle" font-weight="normal" stroke="#3a3a3a" stroke-width="0.3" >8</text>
<text x="324.10" y="708.4" font-family="Liberation Sans" font-size="11.9" fill="#333" text-anchor="middle" font-weight="normal" stroke="#333" stroke-width="0.3" >R (&#197;)</text>
<text x="159.8" y="495.3" font-family="Liberation Serif" font-size="11.5" fill="#333" text-anchor="start" font-weight="normal" >(i)</text>
<text x="0" y="0" transform="translate(164.2,584.4) rotate(-90)" font-family="Liberation Sans" font-size="11.5" fill="#333" stroke="#333" stroke-width="0.25" text-anchor="middle" dominant-baseline="central">|FT(K<tspan font-size="7" dy="3">2</tspan><tspan dy="-3">x(K))| (a.u.)</tspan></text>
<path d="M195.00,665.00 C197.88,665.06 198.54,665.62 204.60,665.20 C210.66,664.78 209.98,663.36 215.20,663.60 C220.42,663.84 217.86,666.06 222.00,666.00 C226.14,665.94 225.16,665.08 229.00,663.40 C232.84,661.72 231.62,660.22 234.80,660.40 C237.98,660.58 236.60,667.54 239.60,664.00 C242.60,660.46 241.98,655.35 244.80,648.60 C247.62,641.85 246.69,646.48 249.00,641.50 C251.31,636.52 250.19,647.45 252.50,632.00 C254.81,616.55 254.45,617.60 256.70,590.00 C258.95,562.40 258.11,562.50 260.00,540.00 C261.89,517.50 261.50,524.06 263.00,515.00 C264.50,505.94 263.80,509.80 265.00,509.80 C266.20,509.80 265.50,505.94 267.00,515.00 C268.50,524.06 268.29,522.00 270.00,540.00 C271.71,558.00 271.02,551.00 272.70,575.00 C274.38,599.00 273.47,594.95 275.60,620.00 C277.73,645.05 277.28,647.70 279.80,658.50 C282.32,669.30 281.15,656.15 284.00,656.00 C286.85,655.85 286.93,657.28 289.30,658.00 C291.67,658.72 289.89,660.80 291.90,658.40 C293.91,656.00 293.12,656.18 296.00,650.00 C298.88,643.82 298.50,639.90 301.50,637.80 C304.50,635.70 303.33,639.49 306.00,643.00 C308.67,646.51 307.22,654.78 310.40,649.50 C313.58,644.22 313.57,636.65 316.60,625.40 C319.63,614.15 318.01,617.37 320.50,612.00 C322.99,606.63 322.35,606.90 324.90,607.50 C327.45,608.10 326.12,607.61 329.00,614.00 C331.88,620.39 331.20,625.80 334.50,628.80 C337.80,631.80 336.70,627.09 340.00,624.00 C343.30,620.91 342.20,617.30 345.50,618.50 C348.80,619.70 347.28,619.33 351.00,628.00 C354.72,636.67 352.95,638.91 357.90,647.40 C362.85,655.89 362.13,652.16 367.50,656.30 C372.87,660.44 370.97,659.49 375.80,661.20 C380.63,662.91 376.34,662.36 383.60,662.00 C390.86,661.64 392.83,661.59 400.00,660.00 C407.17,658.41 403.60,655.80 407.50,656.70 C411.40,657.60 409.55,662.61 413.00,663.00 C416.45,663.39 415.10,661.84 419.00,658.00 C422.90,654.16 420.60,649.60 426.00,650.20 C431.40,650.80 431.30,655.86 437.00,660.00 C442.70,664.14 440.20,661.90 445.00,664.00 C449.80,666.10 450.60,666.10 453.00,667.00" fill="none" stroke="#727272" stroke-width="1.5" stroke-linejoin="round" stroke-linecap="round" />
<path d="M195.00,659.70 C195.66,659.55 195.10,658.39 197.20,659.20 C199.30,660.01 199.15,663.21 202.00,662.40 C204.85,661.59 204.33,657.79 206.70,656.50 C209.07,655.21 207.86,660.05 209.90,658.10 C211.94,656.15 211.61,654.29 213.50,650.00 C215.39,645.71 214.25,645.18 216.20,643.80 C218.15,642.42 218.08,646.18 220.00,645.40 C221.92,644.62 221.10,645.82 222.60,641.20 C224.10,636.58 223.50,638.46 225.00,630.00 C226.50,621.54 225.68,617.29 227.60,613.00 C229.52,608.71 229.42,618.19 231.40,615.70 C233.38,613.21 232.67,618.41 234.20,604.70 C235.73,590.99 235.06,592.41 236.50,570.00 C237.94,547.59 237.32,545.06 239.00,530.00 C240.68,514.94 240.30,519.80 242.10,519.80 C243.90,519.80 242.93,511.94 245.00,530.00 C247.07,548.06 246.90,551.50 249.00,580.00 C251.10,608.50 250.02,604.00 252.00,625.00 C253.98,646.00 253.65,640.10 255.60,650.00 C257.55,659.90 256.64,654.46 258.50,658.00 C260.36,661.54 259.55,667.20 261.80,661.80 C264.05,656.40 263.45,653.14 266.00,640.00 C268.55,626.86 267.63,629.10 270.30,618.00 C272.97,606.90 271.99,604.80 274.90,603.00 C277.81,601.20 276.97,603.90 280.00,612.00 C283.03,620.10 281.85,619.38 285.00,630.00 C288.15,640.62 286.78,641.34 290.50,647.40 C294.22,653.46 293.26,645.88 297.40,650.20 C301.54,654.52 301.12,663.06 304.30,661.80 C307.48,660.54 305.54,655.90 308.00,646.00 C310.46,636.10 309.95,630.60 312.50,628.80 C315.05,627.00 314.01,631.12 316.50,640.00 C318.99,648.88 317.05,651.44 320.80,658.40 C324.55,665.36 323.66,665.27 329.00,663.20 C334.34,661.13 333.23,657.47 338.60,651.50 C343.97,645.53 342.88,643.75 346.90,643.30 C350.92,642.85 348.28,644.03 352.00,650.00 C355.72,655.97 354.65,661.10 359.30,663.20 C363.95,665.30 362.79,657.96 367.50,657.00 C372.21,656.04 370.17,659.10 375.00,660.00 C379.83,660.90 376.40,661.20 383.60,660.00 C390.80,658.80 391.08,656.30 399.00,656.00 C406.92,655.70 403.70,657.50 410.00,659.00 C416.30,660.50 414.00,661.90 420.00,661.00 C426.00,660.10 424.00,655.70 430.00,656.00 C436.00,656.30 433.10,660.80 440.00,662.00 C446.90,663.20 449.10,660.60 453.00,660.00" fill="none" stroke="#e8a676" stroke-width="1.5" stroke-linejoin="round" stroke-linecap="round" />
<path d="M195.00,647.50 C196.35,648.10 196.50,650.55 199.50,649.50 C202.50,648.45 201.85,644.90 205.00,644.00 C208.15,643.10 206.70,651.90 210.00,646.50 C213.30,641.10 213.21,635.15 216.00,626.00 C218.79,616.85 216.66,624.40 219.30,616.00 C221.94,607.60 221.83,606.40 224.80,598.00 C227.77,589.60 226.74,594.30 229.20,588.00 C231.66,581.70 230.81,586.30 233.00,577.00 C235.19,567.70 234.82,568.10 236.50,557.00 C238.18,545.90 237.40,547.20 238.60,540.00 C239.80,532.80 239.30,533.60 240.50,533.00 C241.70,532.40 241.19,525.40 242.60,538.00 C244.01,550.60 243.58,547.40 245.20,575.00 C246.82,602.60 246.05,604.59 248.00,630.00 C249.95,655.41 249.90,652.20 251.70,659.70 C253.50,667.20 252.41,659.59 254.00,655.00 C255.59,650.41 254.81,645.99 257.00,644.40 C259.19,642.81 258.27,652.58 261.30,649.70 C264.33,646.82 263.89,643.11 267.10,634.80 C270.31,626.49 269.33,627.73 272.00,622.00 C274.67,616.27 273.60,614.80 276.00,615.70 C278.40,616.60 276.94,611.47 280.00,625.00 C283.06,638.53 282.21,652.85 286.20,660.80 C290.19,668.75 289.94,653.45 293.30,651.50 C296.66,649.55 293.71,655.53 297.40,654.30 C301.09,653.07 300.65,652.14 305.60,647.40 C310.55,642.66 308.95,633.55 313.90,638.50 C318.85,643.45 317.57,658.95 322.10,663.90 C326.63,668.85 325.28,656.65 329.00,655.00 C332.72,653.35 330.36,660.68 334.50,658.40 C338.64,656.12 339.50,650.70 342.80,647.40 C346.10,644.10 340.55,643.26 345.50,647.40 C350.45,651.54 351.86,656.25 359.30,661.20 C366.74,666.15 363.19,663.96 370.30,663.90 C377.41,663.84 376.49,660.67 383.00,661.00 C389.51,661.33 386.90,665.30 392.00,665.00 C397.10,664.70 394.09,660.00 400.00,660.00 C405.91,660.00 405.49,665.45 411.70,665.00 C417.91,664.55 415.51,658.65 420.70,658.50 C425.89,658.35 424.11,663.45 429.00,664.50 C433.89,665.55 432.32,663.65 437.00,662.00 C441.68,660.35 439.80,658.10 444.60,659.00 C449.40,659.90 450.48,663.20 453.00,665.00" fill="none" stroke="#4b8fe6" stroke-width="1.5" stroke-linejoin="round" stroke-linecap="round" />
<path d="M195.00,647.00 C196.35,647.69 196.50,650.26 199.50,649.30 C202.50,648.34 201.85,644.64 205.00,643.80 C208.15,642.96 206.70,651.96 210.00,646.50 C213.30,641.04 213.21,634.84 216.00,625.60 C218.79,616.36 216.66,624.28 219.30,615.70 C221.94,607.12 221.83,606.57 224.80,597.00 C227.77,587.43 226.74,590.40 229.20,583.80 C231.66,577.20 230.96,586.34 233.00,575.00 C235.04,563.66 234.23,562.20 236.00,546.00 C237.77,529.80 237.37,530.84 238.90,521.00 C240.43,511.16 239.75,513.50 241.10,513.20 C242.45,512.90 241.93,510.16 243.40,520.00 C244.87,529.84 244.47,522.00 246.00,546.00 C247.53,570.00 246.94,571.80 248.50,600.00 C250.06,628.20 249.28,620.80 251.20,640.00 C253.12,659.20 252.98,659.20 254.90,664.00 C256.82,668.80 255.68,656.66 257.60,656.00 C259.52,655.34 258.18,668.10 261.30,661.80 C264.42,655.50 264.04,649.04 268.00,635.00 C271.96,620.96 271.80,621.78 274.50,615.00 C277.20,608.22 275.05,610.30 277.00,612.40 C278.95,614.50 277.94,608.92 281.00,622.00 C284.06,635.08 284.20,646.40 287.20,656.00 C290.20,665.60 287.94,657.60 291.00,654.00 C294.06,650.40 293.41,646.40 297.40,644.00 C301.39,641.60 299.77,649.12 304.30,646.00 C308.83,642.88 307.16,629.04 312.50,633.60 C317.84,638.16 317.75,654.60 322.10,661.20 C326.45,667.80 324.30,655.60 327.00,655.60 C329.70,655.60 327.20,664.08 331.10,661.20 C335.00,658.32 334.84,650.98 340.00,646.00 C345.16,641.02 342.51,639.65 348.30,644.60 C354.09,649.55 353.75,659.20 359.30,662.50 C364.85,665.80 361.43,655.60 366.80,655.60 C372.17,655.60 372.16,661.63 377.20,662.50 C382.24,663.37 379.34,657.54 383.60,658.50 C387.86,659.46 386.75,666.24 391.40,665.70 C396.05,665.16 393.55,658.11 399.10,656.70 C404.65,655.29 404.86,660.82 409.90,661.00 C414.94,661.18 411.40,659.46 415.90,657.30 C420.40,655.14 418.45,651.28 424.90,653.80 C431.35,656.32 431.37,662.94 437.40,665.70 C443.43,668.46 440.32,663.21 445.00,663.00 C449.68,662.79 450.60,664.40 453.00,665.00" fill="none" stroke="#d8323e" stroke-width="1.6" stroke-linejoin="round" stroke-linecap="round" />
<line x1="328.9" y1="518.1" x2="350.5" y2="518.1" stroke="#d8323e" stroke-width="1.6"/>
<text x="353.7" y="521.7" font-family="Liberation Sans" font-size="10.0" fill="#333" text-anchor="start" font-weight="normal" stroke="#333" stroke-width="0.2" >NiPc-2DXI-COF</text>
<line x1="328.9" y1="530.4" x2="350.5" y2="530.4" stroke="#4b8fe6" stroke-width="1.6"/>
<text x="353.7" y="534.0" font-family="Liberation Sans" font-size="10.0" fill="#333" text-anchor="start" font-weight="normal" stroke="#333" stroke-width="0.2" >NiPc-DXI-COF</text>
<line x1="328.9" y1="542.5" x2="350.5" y2="542.5" stroke="#e8a676" stroke-width="1.6"/>
<text x="353.7" y="546.1" font-family="Liberation Sans" font-size="10.0" fill="#333" text-anchor="start" font-weight="normal" stroke="#333" stroke-width="0.2" >NiPc</text>
<line x1="328.9" y1="554.8" x2="350.5" y2="554.8" stroke="#727272" stroke-width="1.6"/>
<text x="353.7" y="558.4" font-family="Liberation Sans" font-size="10.0" fill="#333" text-anchor="start" font-weight="normal" stroke="#333" stroke-width="0.2" >Ni foil</text>
<rect x="510.5" y="486.3" width="258.79999999999995" height="192.49999999999994" fill="none" stroke="#6a6a6a" stroke-width="1.4"/>
<line x1="510.50" y1="678.8" x2="510.50" y2="682.8" stroke="#6a6a6a" stroke-width="1.2"/>
<line x1="542.85" y1="678.8" x2="542.85" y2="681.1999999999999" stroke="#6a6a6a" stroke-width="1.2"/>
<line x1="575.20" y1="678.8" x2="575.20" y2="682.8" stroke="#6a6a6a" stroke-width="1.2"/>
<line x1="607.55" y1="678.8" x2="607.55" y2="681.1999999999999" stroke="#6a6a6a" stroke-width="1.2"/>
<line x1="639.90" y1="678.8" x2="639.90" y2="682.8" stroke="#6a6a6a" stroke-width="1.2"/>
<line x1="672.25" y1="678.8" x2="672.25" y2="681.1999999999999" stroke="#6a6a6a" stroke-width="1.2"/>
<line x1="704.60" y1="678.8" x2="704.60" y2="682.8" stroke="#6a6a6a" stroke-width="1.2"/>
<line x1="736.95" y1="678.8" x2="736.95" y2="681.1999999999999" stroke="#6a6a6a" stroke-width="1.2"/>
<line x1="769.30" y1="678.8" x2="769.30" y2="682.8" stroke="#6a6a6a" stroke-width="1.2"/>
<text x="510.50" y="692.6" font-family="Liberation Sans" font-size="8.8" fill="#3a3a3a" text-anchor="middle" font-weight="normal" stroke="#3a3a3a" stroke-width="0.3" >0</text>
<text x="575.20" y="692.6" font-family="Liberation Sans" font-size="8.8" fill="#3a3a3a" text-anchor="middle" font-weight="normal" stroke="#3a3a3a" stroke-width="0.3" >2</text>
<text x="639.90" y="692.6" font-family="Liberation Sans" font-size="8.8" fill="#3a3a3a" text-anchor="middle" font-weight="normal" stroke="#3a3a3a" stroke-width="0.3" >4</text>
<text x="704.60" y="692.6" font-family="Liberation Sans" font-size="8.8" fill="#3a3a3a" text-anchor="middle" font-weight="normal" stroke="#3a3a3a" stroke-width="0.3" >6</text>
<text x="769.30" y="692.6" font-family="Liberation Sans" font-size="8.8" fill="#3a3a3a" text-anchor="middle" font-weight="normal" stroke="#3a3a3a" stroke-width="0.3" >8</text>
<text x="640.30" y="708.4" font-family="Liberation Sans" font-size="11.9" fill="#333" text-anchor="middle" font-weight="normal" stroke="#333" stroke-width="0.3" >R (&#197;)</text>
<text x="475.8" y="497.0" font-family="Liberation Serif" font-size="11.5" fill="#333" text-anchor="start" font-weight="normal" >(j)</text>
<text x="0" y="0" transform="translate(479.7,584.4) rotate(-90)" font-family="Liberation Sans" font-size="11.5" fill="#333" stroke="#333" stroke-width="0.25" text-anchor="middle" dominant-baseline="central">|FT(K<tspan font-size="7" dy="3">2</tspan><tspan dy="-3">x(K))| (a.u.)</tspan></text>
<path d="M511.00,653.60 C513.19,654.23 514.46,656.33 518.30,655.70 C522.14,655.07 520.50,650.90 523.80,651.50 C527.10,652.10 525.19,661.60 529.30,657.70 C533.41,653.80 532.76,638.29 537.50,638.50 C542.24,638.71 540.96,657.59 545.10,658.40 C549.24,659.21 547.58,645.73 551.30,641.20 C555.02,636.67 553.18,647.62 557.50,643.30 C561.82,638.98 561.59,625.99 565.70,626.80 C569.81,627.61 568.56,646.54 571.20,646.00 C573.84,645.46 572.64,644.80 574.50,625.00 C576.36,605.20 575.60,610.00 577.40,580.00 C579.20,550.00 578.43,548.28 580.50,525.00 C582.57,501.72 582.05,502.40 584.30,502.40 C586.55,502.40 585.54,501.72 588.00,525.00 C590.46,548.28 589.89,545.77 592.50,580.00 C595.11,614.23 593.79,620.11 596.70,639.10 C599.61,658.09 598.72,639.16 602.20,643.30 C605.68,647.44 604.82,651.67 608.30,652.90 C611.78,654.13 610.50,647.82 613.80,647.40 C617.10,646.98 614.77,655.22 619.30,651.50 C623.83,647.78 623.35,634.16 628.90,635.00 C634.45,635.84 633.27,651.00 637.80,654.30 C642.33,657.60 639.05,654.25 644.00,646.00 C648.95,637.75 647.70,626.38 654.30,626.80 C660.90,627.22 659.40,646.38 666.00,647.40 C672.60,648.42 670.12,627.59 676.30,630.20 C682.48,632.81 681.53,651.63 686.60,656.10 C691.67,660.57 686.93,645.10 693.20,645.10 C699.47,645.10 700.57,654.63 707.50,656.10 C714.43,657.57 710.69,650.15 716.30,650.00 C721.91,649.85 719.93,654.91 726.20,655.60 C732.47,656.29 731.59,651.82 737.20,652.30 C742.81,652.78 739.62,657.89 744.90,657.20 C750.18,656.51 748.20,650.15 754.80,650.00 C761.40,649.85 762.64,654.90 766.90,656.70 C771.16,658.50 768.37,656.21 769.00,656.00" fill="none" stroke="#b2a436" stroke-width="1.6" stroke-linejoin="round" stroke-linecap="round" />
<path d="M511.00,652.90 C512.77,653.92 512.25,655.88 516.90,656.30 C521.55,656.72 521.76,656.97 526.50,654.30 C531.24,651.63 529.82,648.63 532.70,647.40 C535.58,646.17 533.43,662.17 536.10,650.20 C538.77,638.23 538.69,624.84 541.60,607.50 C544.51,590.16 542.89,590.54 545.80,592.40 C548.71,594.26 548.84,615.92 551.30,613.70 C553.76,611.48 552.14,605.61 554.00,585.00 C555.86,564.39 555.22,564.50 557.50,545.00 C559.78,525.50 559.20,521.50 561.60,520.00 C564.00,518.50 563.25,519.00 565.50,540.00 C567.75,561.00 567.30,563.00 569.10,590.00 C570.90,617.00 570.03,610.71 571.50,630.00 C572.97,649.29 571.39,649.50 574.00,654.30 C576.61,659.10 576.69,654.67 580.20,646.00 C583.71,637.33 582.40,639.02 585.70,625.40 C589.00,611.78 587.51,604.32 591.20,600.60 C594.89,596.88 593.47,608.05 598.00,613.00 C602.53,617.95 602.10,612.00 606.30,617.10 C610.50,622.20 607.71,617.61 612.00,630.00 C616.29,642.39 615.11,659.78 620.60,658.40 C626.09,657.02 624.09,625.19 630.30,625.40 C636.51,625.61 634.31,652.08 641.30,659.10 C648.29,666.12 648.26,650.66 653.60,648.80 C658.94,646.94 654.96,656.20 659.10,652.90 C663.24,649.60 661.82,639.03 667.40,637.80 C672.98,636.57 671.76,648.92 677.70,648.80 C683.64,648.68 682.88,638.18 687.20,637.40 C691.52,636.62 687.66,647.67 692.10,646.20 C696.54,644.73 696.72,633.16 702.00,632.50 C707.28,631.84 705.74,640.22 709.70,644.00 C713.66,647.78 710.25,643.12 715.20,645.10 C720.15,647.08 718.94,650.93 726.20,650.60 C733.46,650.27 732.80,644.00 739.40,644.00 C746.00,644.00 742.92,649.94 748.20,650.60 C753.48,651.26 750.76,646.86 757.00,646.20 C763.24,645.54 765.40,647.74 769.00,648.40" fill="none" stroke="#f2a49e" stroke-width="1.5" stroke-linejoin="round" stroke-linecap="round" />
<path d="M511.00,648.80 C512.14,650.66 511.38,657.07 514.80,655.00 C518.22,652.93 518.05,646.67 522.40,641.90 C526.75,637.13 526.21,641.17 529.30,639.10 C532.39,637.03 529.61,644.48 532.70,635.00 C535.79,625.52 535.67,616.98 539.60,607.50 C543.53,598.02 542.29,611.65 545.80,603.40 C549.31,595.15 548.54,596.02 551.30,580.00 C554.06,563.98 552.84,563.20 555.00,550.00 C557.16,536.80 556.82,541.13 558.50,536.00 C560.18,530.87 559.25,532.60 560.60,532.90 C561.95,533.20 561.38,528.87 563.00,537.00 C564.62,545.13 564.56,547.10 566.00,560.00 C567.44,572.90 565.61,557.50 567.80,580.00 C569.99,602.50 570.00,619.31 573.30,635.00 C576.60,650.69 575.50,631.46 578.80,632.30 C582.10,633.14 580.19,645.24 584.30,637.80 C588.41,630.36 587.55,615.75 592.50,607.50 C597.45,599.25 596.90,609.25 600.80,610.30 C604.70,611.35 602.02,604.40 605.50,611.00 C608.98,617.60 608.26,623.45 612.40,632.30 C616.54,641.15 614.14,640.92 619.30,640.50 C624.46,640.08 623.84,627.60 629.60,630.90 C635.36,634.20 633.76,646.13 638.50,651.50 C643.24,656.87 640.45,649.61 645.40,648.80 C650.35,647.99 649.63,650.06 655.00,648.80 C660.37,647.54 657.09,642.35 663.30,644.60 C669.51,646.85 668.71,655.16 675.70,656.30 C682.69,657.44 681.02,647.80 686.60,648.40 C692.18,649.00 689.68,656.80 694.30,658.30 C698.92,659.80 697.89,654.06 702.00,653.40 C706.11,652.74 703.71,657.12 708.00,656.10 C712.29,655.08 711.17,649.01 716.30,650.00 C721.43,650.99 720.15,658.56 725.10,659.40 C730.05,660.24 727.85,655.26 732.80,652.80 C737.75,650.34 735.33,651.86 741.60,651.20 C747.87,650.54 747.76,649.28 753.70,650.60 C759.64,651.92 756.81,653.95 761.40,655.60 C765.99,657.25 766.72,655.95 769.00,656.10" fill="none" stroke="#39a153" stroke-width="1.6" stroke-linejoin="round" stroke-linecap="round" />
<path d="M511.00,652.00 C511.93,653.29 510.26,658.91 514.10,656.30 C517.94,653.69 519.03,646.81 523.80,643.30 C528.57,639.79 527.12,647.09 530.00,644.60 C532.88,642.11 530.52,646.55 533.40,635.00 C536.28,623.45 535.67,616.42 539.60,606.10 C543.53,595.78 542.99,609.93 546.50,600.60 C550.01,591.27 548.75,591.68 551.30,575.00 C553.85,558.32 552.84,560.30 555.00,545.00 C557.16,529.70 556.52,531.80 558.50,524.00 C560.48,516.20 559.80,519.00 561.60,519.00 C563.40,519.00 562.58,513.20 564.50,524.00 C566.42,534.80 566.20,534.90 568.00,555.00 C569.80,575.10 567.68,566.16 570.50,591.00 C573.32,615.84 574.31,625.62 577.40,637.80 C580.49,649.98 578.31,631.21 580.80,631.60 C583.29,631.99 582.19,645.91 585.70,639.10 C589.21,632.29 587.76,613.85 592.50,608.90 C597.24,603.95 597.60,618.49 601.50,622.60 C605.40,626.71 602.65,623.41 605.50,622.60 C608.35,621.79 606.47,612.46 611.00,619.90 C615.53,627.34 615.23,646.77 620.60,647.40 C625.97,648.03 623.74,619.72 628.90,622.00 C634.06,624.28 633.27,648.01 637.80,655.00 C642.33,661.99 639.65,645.51 644.00,645.30 C648.35,645.09 646.12,655.11 652.30,654.30 C658.48,653.49 657.79,643.23 664.60,642.60 C671.41,641.97 669.39,650.46 675.00,652.20 C680.61,653.94 678.65,646.72 683.30,648.40 C687.95,650.08 685.37,660.62 690.50,657.80 C695.63,654.98 694.79,641.16 700.40,639.00 C706.01,636.84 704.76,648.59 709.20,650.60 C713.64,652.61 710.76,643.54 715.20,645.70 C719.64,647.86 719.05,656.33 724.00,657.80 C728.95,659.27 726.24,650.60 731.70,650.60 C737.16,650.60 735.93,657.80 742.20,657.80 C748.47,657.80 747.17,651.11 752.60,650.60 C758.03,650.09 755.38,654.93 760.30,656.10 C765.22,657.27 766.39,654.98 769.00,654.50" fill="none" stroke="#8c4fbe" stroke-width="1.6" stroke-linejoin="round" stroke-linecap="round" />
<line x1="657.6" y1="523.4" x2="679" y2="523.4" stroke="#39a153" stroke-width="1.6"/>
<text x="681.1" y="527.0" font-family="Liberation Sans" font-size="10.0" fill="#333" text-anchor="start" font-weight="normal" stroke="#333" stroke-width="0.2" >ZnPc-2DXI-COF</text>
<line x1="657.6" y1="535.5" x2="679" y2="535.5" stroke="#8c4fbe" stroke-width="1.6"/>
<text x="681.1" y="539.1" font-family="Liberation Sans" font-size="10.0" fill="#333" text-anchor="start" font-weight="normal" stroke="#333" stroke-width="0.2" >ZnPc-DXI-COF</text>
<line x1="657.6" y1="547.8" x2="679" y2="547.8" stroke="#f2a49e" stroke-width="1.6"/>
<text x="681.1" y="551.4" font-family="Liberation Sans" font-size="10.0" fill="#333" text-anchor="start" font-weight="normal" stroke="#333" stroke-width="0.2" >ZnPc</text>
<line x1="657.6" y1="559.9" x2="679" y2="559.9" stroke="#b2a436" stroke-width="1.6"/>
<text x="681.1" y="563.5" font-family="Liberation Sans" font-size="10.0" fill="#333" text-anchor="start" font-weight="normal" stroke="#333" stroke-width="0.2" >Zn foil</text>
</svg></body></html>
